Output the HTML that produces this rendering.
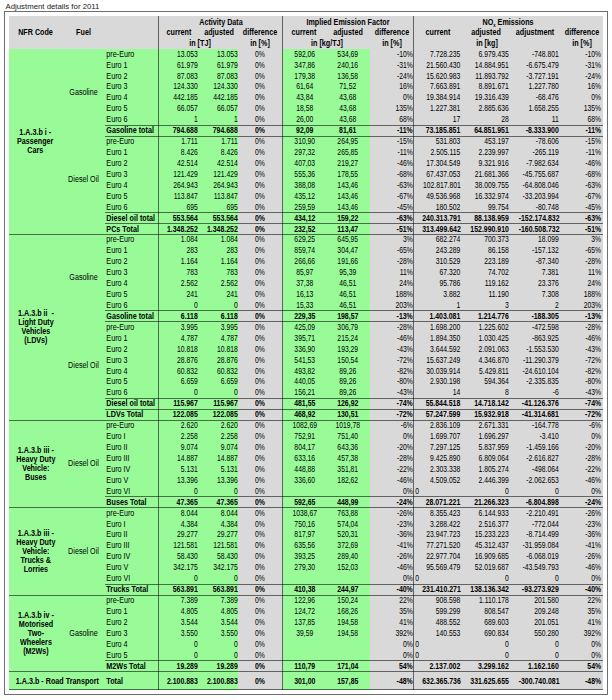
<!DOCTYPE html>
<html><head><meta charset="utf-8"><title>Adjustment details for 2011</title>
<style>
html,body{margin:0;padding:0;background:#fff;}
body{width:612px;height:700px;position:relative;overflow:hidden;font-family:"Liberation Sans",Arial,sans-serif;font-size:8.4px;color:#000;}
body>div{position:absolute;white-space:nowrap;}
.b{font-weight:bold;}
.nfr span{display:inline-block;transform:scaleX(0.858);}
.nfr{display:flex;align-items:center;justify-content:center;text-align:center;line-height:9px;white-space:nowrap;}
sub{font-size:5px;vertical-align:-1.5px;line-height:0;}
.title{left:5.5px;top:1.7px;font-size:7.8px;line-height:10px;color:#222;}
.frame{left:4px;top:11px;width:602px;height:682px;border:1px solid #6e6e6e;}
</style></head><body>
<div class="frame"></div>
<div class="title">Adjustment details for 2011</div>
<div style="left:9px;top:15.90px;width:594.00px;height:673.80px;background:#d9d9d9"></div>
<div style="left:9px;top:48.68px;width:229.00px;height:641.02px;background:#98fb98"></div>
<div style="left:282.5px;top:48.68px;width:87.00px;height:641.02px;background:#98fb98"></div>
<div class="" style="left:105px;top:48.68px;width:53.50px;height:10.93px;line-height:10.93px;text-align:left;padding-left:1.6px;box-sizing:border-box;transform:scaleX(0.858);transform-origin:left center;">pre-Euro</div>
<div class="" style="left:158.5px;top:48.68px;width:40.00px;height:10.93px;line-height:10.93px;text-align:right;padding-right:1.5px;box-sizing:border-box;transform:scaleX(0.812);transform-origin:right center;">13.053</div>
<div class="" style="left:198.5px;top:48.68px;width:40.00px;height:10.93px;line-height:10.93px;text-align:right;padding-right:1.5px;box-sizing:border-box;transform:scaleX(0.812);transform-origin:right center;">13.053</div>
<div class="" style="left:237.8px;top:48.68px;width:44.00px;height:10.93px;line-height:10.93px;text-align:center;transform:scaleX(0.812);transform-origin:center center;">0%</div>
<div class="" style="left:282.5px;top:48.68px;width:43.50px;height:10.93px;line-height:10.93px;text-align:center;transform:scaleX(0.812);transform-origin:center center;">592,06</div>
<div class="" style="left:326px;top:48.68px;width:43.50px;height:10.93px;line-height:10.93px;text-align:center;transform:scaleX(0.812);transform-origin:center center;">534,69</div>
<div class="" style="left:369.5px;top:48.68px;width:44.00px;height:10.93px;line-height:10.93px;text-align:right;padding-right:1.5px;box-sizing:border-box;transform:scaleX(0.812);transform-origin:right center;">-10%</div>
<div class="" style="left:413.5px;top:48.68px;width:47.50px;height:10.93px;line-height:10.93px;text-align:right;padding-right:1.5px;box-sizing:border-box;transform:scaleX(0.812);transform-origin:right center;">7.728.235</div>
<div class="" style="left:462px;top:48.68px;width:48.00px;height:10.93px;line-height:10.93px;text-align:right;padding-right:1.5px;box-sizing:border-box;transform:scaleX(0.812);transform-origin:right center;">6.979.435</div>
<div class="" style="left:510px;top:48.68px;width:50.00px;height:10.93px;line-height:10.93px;text-align:right;padding-right:1.5px;box-sizing:border-box;transform:scaleX(0.812);transform-origin:right center;">-748.801</div>
<div class="" style="left:560px;top:48.68px;width:42.40px;height:10.93px;line-height:10.93px;text-align:right;padding-right:1.5px;box-sizing:border-box;transform:scaleX(0.812);transform-origin:right center;">-10%</div>
<div class="" style="left:105px;top:59.61px;width:53.50px;height:10.93px;line-height:10.93px;text-align:left;padding-left:1.6px;box-sizing:border-box;transform:scaleX(0.858);transform-origin:left center;">Euro 1</div>
<div class="" style="left:158.5px;top:59.61px;width:40.00px;height:10.93px;line-height:10.93px;text-align:right;padding-right:1.5px;box-sizing:border-box;transform:scaleX(0.812);transform-origin:right center;">61.979</div>
<div class="" style="left:198.5px;top:59.61px;width:40.00px;height:10.93px;line-height:10.93px;text-align:right;padding-right:1.5px;box-sizing:border-box;transform:scaleX(0.812);transform-origin:right center;">61.979</div>
<div class="" style="left:237.8px;top:59.61px;width:44.00px;height:10.93px;line-height:10.93px;text-align:center;transform:scaleX(0.812);transform-origin:center center;">0%</div>
<div class="" style="left:282.5px;top:59.61px;width:43.50px;height:10.93px;line-height:10.93px;text-align:center;transform:scaleX(0.812);transform-origin:center center;">347,86</div>
<div class="" style="left:326px;top:59.61px;width:43.50px;height:10.93px;line-height:10.93px;text-align:center;transform:scaleX(0.812);transform-origin:center center;">240,16</div>
<div class="" style="left:369.5px;top:59.61px;width:44.00px;height:10.93px;line-height:10.93px;text-align:right;padding-right:1.5px;box-sizing:border-box;transform:scaleX(0.812);transform-origin:right center;">-31%</div>
<div class="" style="left:413.5px;top:59.61px;width:47.50px;height:10.93px;line-height:10.93px;text-align:right;padding-right:1.5px;box-sizing:border-box;transform:scaleX(0.812);transform-origin:right center;">21.560.430</div>
<div class="" style="left:462px;top:59.61px;width:48.00px;height:10.93px;line-height:10.93px;text-align:right;padding-right:1.5px;box-sizing:border-box;transform:scaleX(0.812);transform-origin:right center;">14.884.951</div>
<div class="" style="left:510px;top:59.61px;width:50.00px;height:10.93px;line-height:10.93px;text-align:right;padding-right:1.5px;box-sizing:border-box;transform:scaleX(0.812);transform-origin:right center;">-6.675.479</div>
<div class="" style="left:560px;top:59.61px;width:42.40px;height:10.93px;line-height:10.93px;text-align:right;padding-right:1.5px;box-sizing:border-box;transform:scaleX(0.812);transform-origin:right center;">-31%</div>
<div class="" style="left:105px;top:70.53px;width:53.50px;height:10.93px;line-height:10.93px;text-align:left;padding-left:1.6px;box-sizing:border-box;transform:scaleX(0.858);transform-origin:left center;">Euro 2</div>
<div class="" style="left:158.5px;top:70.53px;width:40.00px;height:10.93px;line-height:10.93px;text-align:right;padding-right:1.5px;box-sizing:border-box;transform:scaleX(0.812);transform-origin:right center;">87.083</div>
<div class="" style="left:198.5px;top:70.53px;width:40.00px;height:10.93px;line-height:10.93px;text-align:right;padding-right:1.5px;box-sizing:border-box;transform:scaleX(0.812);transform-origin:right center;">87.083</div>
<div class="" style="left:237.8px;top:70.53px;width:44.00px;height:10.93px;line-height:10.93px;text-align:center;transform:scaleX(0.812);transform-origin:center center;">0%</div>
<div class="" style="left:282.5px;top:70.53px;width:43.50px;height:10.93px;line-height:10.93px;text-align:center;transform:scaleX(0.812);transform-origin:center center;">179,38</div>
<div class="" style="left:326px;top:70.53px;width:43.50px;height:10.93px;line-height:10.93px;text-align:center;transform:scaleX(0.812);transform-origin:center center;">136,58</div>
<div class="" style="left:369.5px;top:70.53px;width:44.00px;height:10.93px;line-height:10.93px;text-align:right;padding-right:1.5px;box-sizing:border-box;transform:scaleX(0.812);transform-origin:right center;">-24%</div>
<div class="" style="left:413.5px;top:70.53px;width:47.50px;height:10.93px;line-height:10.93px;text-align:right;padding-right:1.5px;box-sizing:border-box;transform:scaleX(0.812);transform-origin:right center;">15.620.983</div>
<div class="" style="left:462px;top:70.53px;width:48.00px;height:10.93px;line-height:10.93px;text-align:right;padding-right:1.5px;box-sizing:border-box;transform:scaleX(0.812);transform-origin:right center;">11.893.792</div>
<div class="" style="left:510px;top:70.53px;width:50.00px;height:10.93px;line-height:10.93px;text-align:right;padding-right:1.5px;box-sizing:border-box;transform:scaleX(0.812);transform-origin:right center;">-3.727.191</div>
<div class="" style="left:560px;top:70.53px;width:42.40px;height:10.93px;line-height:10.93px;text-align:right;padding-right:1.5px;box-sizing:border-box;transform:scaleX(0.812);transform-origin:right center;">-24%</div>
<div class="" style="left:105px;top:81.46px;width:53.50px;height:10.93px;line-height:10.93px;text-align:left;padding-left:1.6px;box-sizing:border-box;transform:scaleX(0.858);transform-origin:left center;">Euro 3</div>
<div class="" style="left:158.5px;top:81.46px;width:40.00px;height:10.93px;line-height:10.93px;text-align:right;padding-right:1.5px;box-sizing:border-box;transform:scaleX(0.812);transform-origin:right center;">124.330</div>
<div class="" style="left:198.5px;top:81.46px;width:40.00px;height:10.93px;line-height:10.93px;text-align:right;padding-right:1.5px;box-sizing:border-box;transform:scaleX(0.812);transform-origin:right center;">124.330</div>
<div class="" style="left:237.8px;top:81.46px;width:44.00px;height:10.93px;line-height:10.93px;text-align:center;transform:scaleX(0.812);transform-origin:center center;">0%</div>
<div class="" style="left:282.5px;top:81.46px;width:43.50px;height:10.93px;line-height:10.93px;text-align:center;transform:scaleX(0.812);transform-origin:center center;">61,64</div>
<div class="" style="left:326px;top:81.46px;width:43.50px;height:10.93px;line-height:10.93px;text-align:center;transform:scaleX(0.812);transform-origin:center center;">71,52</div>
<div class="" style="left:369.5px;top:81.46px;width:44.00px;height:10.93px;line-height:10.93px;text-align:right;padding-right:1.5px;box-sizing:border-box;transform:scaleX(0.812);transform-origin:right center;">16%</div>
<div class="" style="left:413.5px;top:81.46px;width:47.50px;height:10.93px;line-height:10.93px;text-align:right;padding-right:1.5px;box-sizing:border-box;transform:scaleX(0.812);transform-origin:right center;">7.663.891</div>
<div class="" style="left:462px;top:81.46px;width:48.00px;height:10.93px;line-height:10.93px;text-align:right;padding-right:1.5px;box-sizing:border-box;transform:scaleX(0.812);transform-origin:right center;">8.891.671</div>
<div class="" style="left:510px;top:81.46px;width:50.00px;height:10.93px;line-height:10.93px;text-align:right;padding-right:1.5px;box-sizing:border-box;transform:scaleX(0.812);transform-origin:right center;">1.227.780</div>
<div class="" style="left:560px;top:81.46px;width:42.40px;height:10.93px;line-height:10.93px;text-align:right;padding-right:1.5px;box-sizing:border-box;transform:scaleX(0.812);transform-origin:right center;">16%</div>
<div class="" style="left:105px;top:92.39px;width:53.50px;height:10.93px;line-height:10.93px;text-align:left;padding-left:1.6px;box-sizing:border-box;transform:scaleX(0.858);transform-origin:left center;">Euro 4</div>
<div class="" style="left:158.5px;top:92.39px;width:40.00px;height:10.93px;line-height:10.93px;text-align:right;padding-right:1.5px;box-sizing:border-box;transform:scaleX(0.812);transform-origin:right center;">442.185</div>
<div class="" style="left:198.5px;top:92.39px;width:40.00px;height:10.93px;line-height:10.93px;text-align:right;padding-right:1.5px;box-sizing:border-box;transform:scaleX(0.812);transform-origin:right center;">442.185</div>
<div class="" style="left:237.8px;top:92.39px;width:44.00px;height:10.93px;line-height:10.93px;text-align:center;transform:scaleX(0.812);transform-origin:center center;">0%</div>
<div class="" style="left:282.5px;top:92.39px;width:43.50px;height:10.93px;line-height:10.93px;text-align:center;transform:scaleX(0.812);transform-origin:center center;">43,84</div>
<div class="" style="left:326px;top:92.39px;width:43.50px;height:10.93px;line-height:10.93px;text-align:center;transform:scaleX(0.812);transform-origin:center center;">43,68</div>
<div class="" style="left:369.5px;top:92.39px;width:44.00px;height:10.93px;line-height:10.93px;text-align:right;padding-right:1.5px;box-sizing:border-box;transform:scaleX(0.812);transform-origin:right center;">0%</div>
<div class="" style="left:413.5px;top:92.39px;width:47.50px;height:10.93px;line-height:10.93px;text-align:right;padding-right:1.5px;box-sizing:border-box;transform:scaleX(0.812);transform-origin:right center;">19.384.914</div>
<div class="" style="left:462px;top:92.39px;width:48.00px;height:10.93px;line-height:10.93px;text-align:right;padding-right:1.5px;box-sizing:border-box;transform:scaleX(0.812);transform-origin:right center;">19.316.439</div>
<div class="" style="left:510px;top:92.39px;width:50.00px;height:10.93px;line-height:10.93px;text-align:right;padding-right:1.5px;box-sizing:border-box;transform:scaleX(0.812);transform-origin:right center;">-68.476</div>
<div class="" style="left:560px;top:92.39px;width:42.40px;height:10.93px;line-height:10.93px;text-align:right;padding-right:1.5px;box-sizing:border-box;transform:scaleX(0.812);transform-origin:right center;">0%</div>
<div class="" style="left:105px;top:103.32px;width:53.50px;height:10.93px;line-height:10.93px;text-align:left;padding-left:1.6px;box-sizing:border-box;transform:scaleX(0.858);transform-origin:left center;">Euro 5</div>
<div class="" style="left:158.5px;top:103.32px;width:40.00px;height:10.93px;line-height:10.93px;text-align:right;padding-right:1.5px;box-sizing:border-box;transform:scaleX(0.812);transform-origin:right center;">66.057</div>
<div class="" style="left:198.5px;top:103.32px;width:40.00px;height:10.93px;line-height:10.93px;text-align:right;padding-right:1.5px;box-sizing:border-box;transform:scaleX(0.812);transform-origin:right center;">66.057</div>
<div class="" style="left:237.8px;top:103.32px;width:44.00px;height:10.93px;line-height:10.93px;text-align:center;transform:scaleX(0.812);transform-origin:center center;">0%</div>
<div class="" style="left:282.5px;top:103.32px;width:43.50px;height:10.93px;line-height:10.93px;text-align:center;transform:scaleX(0.812);transform-origin:center center;">18,58</div>
<div class="" style="left:326px;top:103.32px;width:43.50px;height:10.93px;line-height:10.93px;text-align:center;transform:scaleX(0.812);transform-origin:center center;">43,68</div>
<div class="" style="left:369.5px;top:103.32px;width:44.00px;height:10.93px;line-height:10.93px;text-align:right;padding-right:1.5px;box-sizing:border-box;transform:scaleX(0.812);transform-origin:right center;">135%</div>
<div class="" style="left:413.5px;top:103.32px;width:47.50px;height:10.93px;line-height:10.93px;text-align:right;padding-right:1.5px;box-sizing:border-box;transform:scaleX(0.812);transform-origin:right center;">1.227.381</div>
<div class="" style="left:462px;top:103.32px;width:48.00px;height:10.93px;line-height:10.93px;text-align:right;padding-right:1.5px;box-sizing:border-box;transform:scaleX(0.812);transform-origin:right center;">2.885.636</div>
<div class="" style="left:510px;top:103.32px;width:50.00px;height:10.93px;line-height:10.93px;text-align:right;padding-right:1.5px;box-sizing:border-box;transform:scaleX(0.812);transform-origin:right center;">1.658.255</div>
<div class="" style="left:560px;top:103.32px;width:42.40px;height:10.93px;line-height:10.93px;text-align:right;padding-right:1.5px;box-sizing:border-box;transform:scaleX(0.812);transform-origin:right center;">135%</div>
<div class="" style="left:105px;top:114.24px;width:53.50px;height:10.93px;line-height:10.93px;text-align:left;padding-left:1.6px;box-sizing:border-box;transform:scaleX(0.858);transform-origin:left center;">Euro 6</div>
<div class="" style="left:158.5px;top:114.24px;width:40.00px;height:10.93px;line-height:10.93px;text-align:right;padding-right:1.5px;box-sizing:border-box;transform:scaleX(0.812);transform-origin:right center;">1</div>
<div class="" style="left:198.5px;top:114.24px;width:40.00px;height:10.93px;line-height:10.93px;text-align:right;padding-right:1.5px;box-sizing:border-box;transform:scaleX(0.812);transform-origin:right center;">1</div>
<div class="" style="left:237.8px;top:114.24px;width:44.00px;height:10.93px;line-height:10.93px;text-align:center;transform:scaleX(0.812);transform-origin:center center;">0%</div>
<div class="" style="left:282.5px;top:114.24px;width:43.50px;height:10.93px;line-height:10.93px;text-align:center;transform:scaleX(0.812);transform-origin:center center;">26,00</div>
<div class="" style="left:326px;top:114.24px;width:43.50px;height:10.93px;line-height:10.93px;text-align:center;transform:scaleX(0.812);transform-origin:center center;">43,68</div>
<div class="" style="left:369.5px;top:114.24px;width:44.00px;height:10.93px;line-height:10.93px;text-align:right;padding-right:1.5px;box-sizing:border-box;transform:scaleX(0.812);transform-origin:right center;">68%</div>
<div class="" style="left:413.5px;top:114.24px;width:47.50px;height:10.93px;line-height:10.93px;text-align:right;padding-right:1.5px;box-sizing:border-box;transform:scaleX(0.812);transform-origin:right center;">17</div>
<div class="" style="left:462px;top:114.24px;width:48.00px;height:10.93px;line-height:10.93px;text-align:right;padding-right:1.5px;box-sizing:border-box;transform:scaleX(0.812);transform-origin:right center;">28</div>
<div class="" style="left:510px;top:114.24px;width:50.00px;height:10.93px;line-height:10.93px;text-align:right;padding-right:1.5px;box-sizing:border-box;transform:scaleX(0.812);transform-origin:right center;">11</div>
<div class="" style="left:560px;top:114.24px;width:42.40px;height:10.93px;line-height:10.93px;text-align:right;padding-right:1.5px;box-sizing:border-box;transform:scaleX(0.812);transform-origin:right center;">68%</div>
<div class="b" style="left:105px;top:125.17px;width:53.50px;height:10.93px;line-height:10.93px;text-align:left;padding-left:1.6px;box-sizing:border-box;transform:scaleX(0.858);transform-origin:left center;">Gasoline total</div>
<div class="b" style="left:158.5px;top:125.17px;width:40.00px;height:10.93px;line-height:10.93px;text-align:right;padding-right:1.5px;box-sizing:border-box;transform:scaleX(0.826);transform-origin:right center;">794.688</div>
<div class="b" style="left:198.5px;top:125.17px;width:40.00px;height:10.93px;line-height:10.93px;text-align:right;padding-right:1.5px;box-sizing:border-box;transform:scaleX(0.826);transform-origin:right center;">794.688</div>
<div class="b" style="left:237.8px;top:125.17px;width:44.00px;height:10.93px;line-height:10.93px;text-align:center;transform:scaleX(0.826);transform-origin:center center;">0%</div>
<div class="b" style="left:282.5px;top:125.17px;width:43.50px;height:10.93px;line-height:10.93px;text-align:center;transform:scaleX(0.826);transform-origin:center center;">92,09</div>
<div class="b" style="left:326px;top:125.17px;width:43.50px;height:10.93px;line-height:10.93px;text-align:center;transform:scaleX(0.826);transform-origin:center center;">81,61</div>
<div class="b" style="left:369.5px;top:125.17px;width:44.00px;height:10.93px;line-height:10.93px;text-align:right;padding-right:1.5px;box-sizing:border-box;transform:scaleX(0.826);transform-origin:right center;">-11%</div>
<div class="b" style="left:413.5px;top:125.17px;width:47.50px;height:10.93px;line-height:10.93px;text-align:right;padding-right:1.5px;box-sizing:border-box;transform:scaleX(0.826);transform-origin:right center;">73.185.851</div>
<div class="b" style="left:462px;top:125.17px;width:48.00px;height:10.93px;line-height:10.93px;text-align:right;padding-right:1.5px;box-sizing:border-box;transform:scaleX(0.826);transform-origin:right center;">64.851.951</div>
<div class="b" style="left:510px;top:125.17px;width:50.00px;height:10.93px;line-height:10.93px;text-align:right;padding-right:1.5px;box-sizing:border-box;transform:scaleX(0.826);transform-origin:right center;">-8.333.900</div>
<div class="b" style="left:560px;top:125.17px;width:42.40px;height:10.93px;line-height:10.93px;text-align:right;padding-right:1.5px;box-sizing:border-box;transform:scaleX(0.826);transform-origin:right center;">-11%</div>
<div class="" style="left:62px;top:48.68px;width:43.00px;height:87.42px;line-height:87.42px;text-align:center;transform:scaleX(0.858);transform-origin:center center;">Gasoline</div>
<div class="" style="left:105px;top:136.10px;width:53.50px;height:10.93px;line-height:10.93px;text-align:left;padding-left:1.6px;box-sizing:border-box;transform:scaleX(0.858);transform-origin:left center;">pre-Euro</div>
<div class="" style="left:158.5px;top:136.10px;width:40.00px;height:10.93px;line-height:10.93px;text-align:right;padding-right:1.5px;box-sizing:border-box;transform:scaleX(0.812);transform-origin:right center;">1.711</div>
<div class="" style="left:198.5px;top:136.10px;width:40.00px;height:10.93px;line-height:10.93px;text-align:right;padding-right:1.5px;box-sizing:border-box;transform:scaleX(0.812);transform-origin:right center;">1.711</div>
<div class="" style="left:237.8px;top:136.10px;width:44.00px;height:10.93px;line-height:10.93px;text-align:center;transform:scaleX(0.812);transform-origin:center center;">0%</div>
<div class="" style="left:282.5px;top:136.10px;width:43.50px;height:10.93px;line-height:10.93px;text-align:center;transform:scaleX(0.812);transform-origin:center center;">310,90</div>
<div class="" style="left:326px;top:136.10px;width:43.50px;height:10.93px;line-height:10.93px;text-align:center;transform:scaleX(0.812);transform-origin:center center;">264,95</div>
<div class="" style="left:369.5px;top:136.10px;width:44.00px;height:10.93px;line-height:10.93px;text-align:right;padding-right:1.5px;box-sizing:border-box;transform:scaleX(0.812);transform-origin:right center;">-15%</div>
<div class="" style="left:413.5px;top:136.10px;width:47.50px;height:10.93px;line-height:10.93px;text-align:right;padding-right:1.5px;box-sizing:border-box;transform:scaleX(0.812);transform-origin:right center;">531.803</div>
<div class="" style="left:462px;top:136.10px;width:48.00px;height:10.93px;line-height:10.93px;text-align:right;padding-right:1.5px;box-sizing:border-box;transform:scaleX(0.812);transform-origin:right center;">453.197</div>
<div class="" style="left:510px;top:136.10px;width:50.00px;height:10.93px;line-height:10.93px;text-align:right;padding-right:1.5px;box-sizing:border-box;transform:scaleX(0.812);transform-origin:right center;">-78.606</div>
<div class="" style="left:560px;top:136.10px;width:42.40px;height:10.93px;line-height:10.93px;text-align:right;padding-right:1.5px;box-sizing:border-box;transform:scaleX(0.812);transform-origin:right center;">-15%</div>
<div class="" style="left:105px;top:147.02px;width:53.50px;height:10.93px;line-height:10.93px;text-align:left;padding-left:1.6px;box-sizing:border-box;transform:scaleX(0.858);transform-origin:left center;">Euro 1</div>
<div class="" style="left:158.5px;top:147.02px;width:40.00px;height:10.93px;line-height:10.93px;text-align:right;padding-right:1.5px;box-sizing:border-box;transform:scaleX(0.812);transform-origin:right center;">8.426</div>
<div class="" style="left:198.5px;top:147.02px;width:40.00px;height:10.93px;line-height:10.93px;text-align:right;padding-right:1.5px;box-sizing:border-box;transform:scaleX(0.812);transform-origin:right center;">8.426</div>
<div class="" style="left:237.8px;top:147.02px;width:44.00px;height:10.93px;line-height:10.93px;text-align:center;transform:scaleX(0.812);transform-origin:center center;">0%</div>
<div class="" style="left:282.5px;top:147.02px;width:43.50px;height:10.93px;line-height:10.93px;text-align:center;transform:scaleX(0.812);transform-origin:center center;">297,32</div>
<div class="" style="left:326px;top:147.02px;width:43.50px;height:10.93px;line-height:10.93px;text-align:center;transform:scaleX(0.812);transform-origin:center center;">265,85</div>
<div class="" style="left:369.5px;top:147.02px;width:44.00px;height:10.93px;line-height:10.93px;text-align:right;padding-right:1.5px;box-sizing:border-box;transform:scaleX(0.812);transform-origin:right center;">-11%</div>
<div class="" style="left:413.5px;top:147.02px;width:47.50px;height:10.93px;line-height:10.93px;text-align:right;padding-right:1.5px;box-sizing:border-box;transform:scaleX(0.812);transform-origin:right center;">2.505.115</div>
<div class="" style="left:462px;top:147.02px;width:48.00px;height:10.93px;line-height:10.93px;text-align:right;padding-right:1.5px;box-sizing:border-box;transform:scaleX(0.812);transform-origin:right center;">2.239.997</div>
<div class="" style="left:510px;top:147.02px;width:50.00px;height:10.93px;line-height:10.93px;text-align:right;padding-right:1.5px;box-sizing:border-box;transform:scaleX(0.812);transform-origin:right center;">-265.119</div>
<div class="" style="left:560px;top:147.02px;width:42.40px;height:10.93px;line-height:10.93px;text-align:right;padding-right:1.5px;box-sizing:border-box;transform:scaleX(0.812);transform-origin:right center;">-11%</div>
<div class="" style="left:105px;top:157.95px;width:53.50px;height:10.93px;line-height:10.93px;text-align:left;padding-left:1.6px;box-sizing:border-box;transform:scaleX(0.858);transform-origin:left center;">Euro 2</div>
<div class="" style="left:158.5px;top:157.95px;width:40.00px;height:10.93px;line-height:10.93px;text-align:right;padding-right:1.5px;box-sizing:border-box;transform:scaleX(0.812);transform-origin:right center;">42.514</div>
<div class="" style="left:198.5px;top:157.95px;width:40.00px;height:10.93px;line-height:10.93px;text-align:right;padding-right:1.5px;box-sizing:border-box;transform:scaleX(0.812);transform-origin:right center;">42.514</div>
<div class="" style="left:237.8px;top:157.95px;width:44.00px;height:10.93px;line-height:10.93px;text-align:center;transform:scaleX(0.812);transform-origin:center center;">0%</div>
<div class="" style="left:282.5px;top:157.95px;width:43.50px;height:10.93px;line-height:10.93px;text-align:center;transform:scaleX(0.812);transform-origin:center center;">407,03</div>
<div class="" style="left:326px;top:157.95px;width:43.50px;height:10.93px;line-height:10.93px;text-align:center;transform:scaleX(0.812);transform-origin:center center;">219,27</div>
<div class="" style="left:369.5px;top:157.95px;width:44.00px;height:10.93px;line-height:10.93px;text-align:right;padding-right:1.5px;box-sizing:border-box;transform:scaleX(0.812);transform-origin:right center;">-46%</div>
<div class="" style="left:413.5px;top:157.95px;width:47.50px;height:10.93px;line-height:10.93px;text-align:right;padding-right:1.5px;box-sizing:border-box;transform:scaleX(0.812);transform-origin:right center;">17.304.549</div>
<div class="" style="left:462px;top:157.95px;width:48.00px;height:10.93px;line-height:10.93px;text-align:right;padding-right:1.5px;box-sizing:border-box;transform:scaleX(0.812);transform-origin:right center;">9.321.916</div>
<div class="" style="left:510px;top:157.95px;width:50.00px;height:10.93px;line-height:10.93px;text-align:right;padding-right:1.5px;box-sizing:border-box;transform:scaleX(0.812);transform-origin:right center;">-7.982.634</div>
<div class="" style="left:560px;top:157.95px;width:42.40px;height:10.93px;line-height:10.93px;text-align:right;padding-right:1.5px;box-sizing:border-box;transform:scaleX(0.812);transform-origin:right center;">-46%</div>
<div class="" style="left:105px;top:168.88px;width:53.50px;height:10.93px;line-height:10.93px;text-align:left;padding-left:1.6px;box-sizing:border-box;transform:scaleX(0.858);transform-origin:left center;">Euro 3</div>
<div class="" style="left:158.5px;top:168.88px;width:40.00px;height:10.93px;line-height:10.93px;text-align:right;padding-right:1.5px;box-sizing:border-box;transform:scaleX(0.812);transform-origin:right center;">121.429</div>
<div class="" style="left:198.5px;top:168.88px;width:40.00px;height:10.93px;line-height:10.93px;text-align:right;padding-right:1.5px;box-sizing:border-box;transform:scaleX(0.812);transform-origin:right center;">121.429</div>
<div class="" style="left:237.8px;top:168.88px;width:44.00px;height:10.93px;line-height:10.93px;text-align:center;transform:scaleX(0.812);transform-origin:center center;">0%</div>
<div class="" style="left:282.5px;top:168.88px;width:43.50px;height:10.93px;line-height:10.93px;text-align:center;transform:scaleX(0.812);transform-origin:center center;">555,36</div>
<div class="" style="left:326px;top:168.88px;width:43.50px;height:10.93px;line-height:10.93px;text-align:center;transform:scaleX(0.812);transform-origin:center center;">178,55</div>
<div class="" style="left:369.5px;top:168.88px;width:44.00px;height:10.93px;line-height:10.93px;text-align:right;padding-right:1.5px;box-sizing:border-box;transform:scaleX(0.812);transform-origin:right center;">-68%</div>
<div class="" style="left:413.5px;top:168.88px;width:47.50px;height:10.93px;line-height:10.93px;text-align:right;padding-right:1.5px;box-sizing:border-box;transform:scaleX(0.812);transform-origin:right center;">67.437.053</div>
<div class="" style="left:462px;top:168.88px;width:48.00px;height:10.93px;line-height:10.93px;text-align:right;padding-right:1.5px;box-sizing:border-box;transform:scaleX(0.812);transform-origin:right center;">21.681.366</div>
<div class="" style="left:510px;top:168.88px;width:50.00px;height:10.93px;line-height:10.93px;text-align:right;padding-right:1.5px;box-sizing:border-box;transform:scaleX(0.812);transform-origin:right center;">-45.755.687</div>
<div class="" style="left:560px;top:168.88px;width:42.40px;height:10.93px;line-height:10.93px;text-align:right;padding-right:1.5px;box-sizing:border-box;transform:scaleX(0.812);transform-origin:right center;">-68%</div>
<div class="" style="left:105px;top:179.81px;width:53.50px;height:10.93px;line-height:10.93px;text-align:left;padding-left:1.6px;box-sizing:border-box;transform:scaleX(0.858);transform-origin:left center;">Euro 4</div>
<div class="" style="left:158.5px;top:179.81px;width:40.00px;height:10.93px;line-height:10.93px;text-align:right;padding-right:1.5px;box-sizing:border-box;transform:scaleX(0.812);transform-origin:right center;">264.943</div>
<div class="" style="left:198.5px;top:179.81px;width:40.00px;height:10.93px;line-height:10.93px;text-align:right;padding-right:1.5px;box-sizing:border-box;transform:scaleX(0.812);transform-origin:right center;">264.943</div>
<div class="" style="left:237.8px;top:179.81px;width:44.00px;height:10.93px;line-height:10.93px;text-align:center;transform:scaleX(0.812);transform-origin:center center;">0%</div>
<div class="" style="left:282.5px;top:179.81px;width:43.50px;height:10.93px;line-height:10.93px;text-align:center;transform:scaleX(0.812);transform-origin:center center;">388,08</div>
<div class="" style="left:326px;top:179.81px;width:43.50px;height:10.93px;line-height:10.93px;text-align:center;transform:scaleX(0.812);transform-origin:center center;">143,46</div>
<div class="" style="left:369.5px;top:179.81px;width:44.00px;height:10.93px;line-height:10.93px;text-align:right;padding-right:1.5px;box-sizing:border-box;transform:scaleX(0.812);transform-origin:right center;">-63%</div>
<div class="" style="left:413.5px;top:179.81px;width:47.50px;height:10.93px;line-height:10.93px;text-align:right;padding-right:1.5px;box-sizing:border-box;transform:scaleX(0.812);transform-origin:right center;">102.817.801</div>
<div class="" style="left:462px;top:179.81px;width:48.00px;height:10.93px;line-height:10.93px;text-align:right;padding-right:1.5px;box-sizing:border-box;transform:scaleX(0.812);transform-origin:right center;">38.009.755</div>
<div class="" style="left:510px;top:179.81px;width:50.00px;height:10.93px;line-height:10.93px;text-align:right;padding-right:1.5px;box-sizing:border-box;transform:scaleX(0.812);transform-origin:right center;">-64.808.046</div>
<div class="" style="left:560px;top:179.81px;width:42.40px;height:10.93px;line-height:10.93px;text-align:right;padding-right:1.5px;box-sizing:border-box;transform:scaleX(0.812);transform-origin:right center;">-63%</div>
<div class="" style="left:105px;top:190.73px;width:53.50px;height:10.93px;line-height:10.93px;text-align:left;padding-left:1.6px;box-sizing:border-box;transform:scaleX(0.858);transform-origin:left center;">Euro 5</div>
<div class="" style="left:158.5px;top:190.73px;width:40.00px;height:10.93px;line-height:10.93px;text-align:right;padding-right:1.5px;box-sizing:border-box;transform:scaleX(0.812);transform-origin:right center;">113.847</div>
<div class="" style="left:198.5px;top:190.73px;width:40.00px;height:10.93px;line-height:10.93px;text-align:right;padding-right:1.5px;box-sizing:border-box;transform:scaleX(0.812);transform-origin:right center;">113.847</div>
<div class="" style="left:237.8px;top:190.73px;width:44.00px;height:10.93px;line-height:10.93px;text-align:center;transform:scaleX(0.812);transform-origin:center center;">0%</div>
<div class="" style="left:282.5px;top:190.73px;width:43.50px;height:10.93px;line-height:10.93px;text-align:center;transform:scaleX(0.812);transform-origin:center center;">435,12</div>
<div class="" style="left:326px;top:190.73px;width:43.50px;height:10.93px;line-height:10.93px;text-align:center;transform:scaleX(0.812);transform-origin:center center;">143,46</div>
<div class="" style="left:369.5px;top:190.73px;width:44.00px;height:10.93px;line-height:10.93px;text-align:right;padding-right:1.5px;box-sizing:border-box;transform:scaleX(0.812);transform-origin:right center;">-67%</div>
<div class="" style="left:413.5px;top:190.73px;width:47.50px;height:10.93px;line-height:10.93px;text-align:right;padding-right:1.5px;box-sizing:border-box;transform:scaleX(0.812);transform-origin:right center;">49.536.968</div>
<div class="" style="left:462px;top:190.73px;width:48.00px;height:10.93px;line-height:10.93px;text-align:right;padding-right:1.5px;box-sizing:border-box;transform:scaleX(0.812);transform-origin:right center;">16.332.974</div>
<div class="" style="left:510px;top:190.73px;width:50.00px;height:10.93px;line-height:10.93px;text-align:right;padding-right:1.5px;box-sizing:border-box;transform:scaleX(0.812);transform-origin:right center;">-33.203.994</div>
<div class="" style="left:560px;top:190.73px;width:42.40px;height:10.93px;line-height:10.93px;text-align:right;padding-right:1.5px;box-sizing:border-box;transform:scaleX(0.812);transform-origin:right center;">-67%</div>
<div class="" style="left:105px;top:201.66px;width:53.50px;height:10.93px;line-height:10.93px;text-align:left;padding-left:1.6px;box-sizing:border-box;transform:scaleX(0.858);transform-origin:left center;">Euro 6</div>
<div class="" style="left:158.5px;top:201.66px;width:40.00px;height:10.93px;line-height:10.93px;text-align:right;padding-right:1.5px;box-sizing:border-box;transform:scaleX(0.812);transform-origin:right center;">695</div>
<div class="" style="left:198.5px;top:201.66px;width:40.00px;height:10.93px;line-height:10.93px;text-align:right;padding-right:1.5px;box-sizing:border-box;transform:scaleX(0.812);transform-origin:right center;">695</div>
<div class="" style="left:237.8px;top:201.66px;width:44.00px;height:10.93px;line-height:10.93px;text-align:center;transform:scaleX(0.812);transform-origin:center center;">0%</div>
<div class="" style="left:282.5px;top:201.66px;width:43.50px;height:10.93px;line-height:10.93px;text-align:center;transform:scaleX(0.812);transform-origin:center center;">259,59</div>
<div class="" style="left:326px;top:201.66px;width:43.50px;height:10.93px;line-height:10.93px;text-align:center;transform:scaleX(0.812);transform-origin:center center;">143,46</div>
<div class="" style="left:369.5px;top:201.66px;width:44.00px;height:10.93px;line-height:10.93px;text-align:right;padding-right:1.5px;box-sizing:border-box;transform:scaleX(0.812);transform-origin:right center;">-45%</div>
<div class="" style="left:413.5px;top:201.66px;width:47.50px;height:10.93px;line-height:10.93px;text-align:right;padding-right:1.5px;box-sizing:border-box;transform:scaleX(0.812);transform-origin:right center;">180.502</div>
<div class="" style="left:462px;top:201.66px;width:48.00px;height:10.93px;line-height:10.93px;text-align:right;padding-right:1.5px;box-sizing:border-box;transform:scaleX(0.812);transform-origin:right center;">99.754</div>
<div class="" style="left:510px;top:201.66px;width:50.00px;height:10.93px;line-height:10.93px;text-align:right;padding-right:1.5px;box-sizing:border-box;transform:scaleX(0.812);transform-origin:right center;">-80.748</div>
<div class="" style="left:560px;top:201.66px;width:42.40px;height:10.93px;line-height:10.93px;text-align:right;padding-right:1.5px;box-sizing:border-box;transform:scaleX(0.812);transform-origin:right center;">-45%</div>
<div class="b" style="left:105px;top:212.59px;width:53.50px;height:10.93px;line-height:10.93px;text-align:left;padding-left:1.6px;box-sizing:border-box;transform:scaleX(0.858);transform-origin:left center;">Diesel oil total</div>
<div class="b" style="left:158.5px;top:212.59px;width:40.00px;height:10.93px;line-height:10.93px;text-align:right;padding-right:1.5px;box-sizing:border-box;transform:scaleX(0.826);transform-origin:right center;">553.564</div>
<div class="b" style="left:198.5px;top:212.59px;width:40.00px;height:10.93px;line-height:10.93px;text-align:right;padding-right:1.5px;box-sizing:border-box;transform:scaleX(0.826);transform-origin:right center;">553.564</div>
<div class="b" style="left:237.8px;top:212.59px;width:44.00px;height:10.93px;line-height:10.93px;text-align:center;transform:scaleX(0.826);transform-origin:center center;">0%</div>
<div class="b" style="left:282.5px;top:212.59px;width:43.50px;height:10.93px;line-height:10.93px;text-align:center;transform:scaleX(0.826);transform-origin:center center;">434,12</div>
<div class="b" style="left:326px;top:212.59px;width:43.50px;height:10.93px;line-height:10.93px;text-align:center;transform:scaleX(0.826);transform-origin:center center;">159,22</div>
<div class="b" style="left:369.5px;top:212.59px;width:44.00px;height:10.93px;line-height:10.93px;text-align:right;padding-right:1.5px;box-sizing:border-box;transform:scaleX(0.826);transform-origin:right center;">-63%</div>
<div class="b" style="left:413.5px;top:212.59px;width:47.50px;height:10.93px;line-height:10.93px;text-align:right;padding-right:1.5px;box-sizing:border-box;transform:scaleX(0.826);transform-origin:right center;">240.313.791</div>
<div class="b" style="left:462px;top:212.59px;width:48.00px;height:10.93px;line-height:10.93px;text-align:right;padding-right:1.5px;box-sizing:border-box;transform:scaleX(0.826);transform-origin:right center;">88.138.959</div>
<div class="b" style="left:510px;top:212.59px;width:50.00px;height:10.93px;line-height:10.93px;text-align:right;padding-right:1.5px;box-sizing:border-box;transform:scaleX(0.826);transform-origin:right center;">-152.174.832</div>
<div class="b" style="left:560px;top:212.59px;width:42.40px;height:10.93px;line-height:10.93px;text-align:right;padding-right:1.5px;box-sizing:border-box;transform:scaleX(0.826);transform-origin:right center;">-63%</div>
<div class="" style="left:62px;top:136.10px;width:43.00px;height:87.42px;line-height:87.42px;text-align:center;transform:scaleX(0.858);transform-origin:center center;">Diesel Oil</div>
<div class="b" style="left:105px;top:223.51px;width:53.50px;height:10.93px;line-height:10.93px;text-align:left;padding-left:1.6px;box-sizing:border-box;transform:scaleX(0.858);transform-origin:left center;">PCs Total</div>
<div class="b" style="left:158.5px;top:223.51px;width:40.00px;height:10.93px;line-height:10.93px;text-align:right;padding-right:1.5px;box-sizing:border-box;transform:scaleX(0.826);transform-origin:right center;">1.348.252</div>
<div class="b" style="left:198.5px;top:223.51px;width:40.00px;height:10.93px;line-height:10.93px;text-align:right;padding-right:1.5px;box-sizing:border-box;transform:scaleX(0.826);transform-origin:right center;">1.348.252</div>
<div class="b" style="left:237.8px;top:223.51px;width:44.00px;height:10.93px;line-height:10.93px;text-align:center;transform:scaleX(0.826);transform-origin:center center;">0%</div>
<div class="b" style="left:282.5px;top:223.51px;width:43.50px;height:10.93px;line-height:10.93px;text-align:center;transform:scaleX(0.826);transform-origin:center center;">232,52</div>
<div class="b" style="left:326px;top:223.51px;width:43.50px;height:10.93px;line-height:10.93px;text-align:center;transform:scaleX(0.826);transform-origin:center center;">113,47</div>
<div class="b" style="left:369.5px;top:223.51px;width:44.00px;height:10.93px;line-height:10.93px;text-align:right;padding-right:1.5px;box-sizing:border-box;transform:scaleX(0.826);transform-origin:right center;">-51%</div>
<div class="b" style="left:413.5px;top:223.51px;width:47.50px;height:10.93px;line-height:10.93px;text-align:right;padding-right:1.5px;box-sizing:border-box;transform:scaleX(0.826);transform-origin:right center;">313.499.642</div>
<div class="b" style="left:462px;top:223.51px;width:48.00px;height:10.93px;line-height:10.93px;text-align:right;padding-right:1.5px;box-sizing:border-box;transform:scaleX(0.826);transform-origin:right center;">152.990.910</div>
<div class="b" style="left:510px;top:223.51px;width:50.00px;height:10.93px;line-height:10.93px;text-align:right;padding-right:1.5px;box-sizing:border-box;transform:scaleX(0.826);transform-origin:right center;">-160.508.732</div>
<div class="b" style="left:560px;top:223.51px;width:42.40px;height:10.93px;line-height:10.93px;text-align:right;padding-right:1.5px;box-sizing:border-box;transform:scaleX(0.826);transform-origin:right center;">-51%</div>
<div class="b nfr" style="left:9px;top:48.68px;width:53px;height:185.76px"><span>1.A.3.b i -<br>Passenger<br>Cars</span></div>
<div class="" style="left:105px;top:234.44px;width:53.50px;height:10.93px;line-height:10.93px;text-align:left;padding-left:1.6px;box-sizing:border-box;transform:scaleX(0.858);transform-origin:left center;">pre-Euro</div>
<div class="" style="left:158.5px;top:234.44px;width:40.00px;height:10.93px;line-height:10.93px;text-align:right;padding-right:1.5px;box-sizing:border-box;transform:scaleX(0.812);transform-origin:right center;">1.084</div>
<div class="" style="left:198.5px;top:234.44px;width:40.00px;height:10.93px;line-height:10.93px;text-align:right;padding-right:1.5px;box-sizing:border-box;transform:scaleX(0.812);transform-origin:right center;">1.084</div>
<div class="" style="left:237.8px;top:234.44px;width:44.00px;height:10.93px;line-height:10.93px;text-align:center;transform:scaleX(0.812);transform-origin:center center;">0%</div>
<div class="" style="left:282.5px;top:234.44px;width:43.50px;height:10.93px;line-height:10.93px;text-align:center;transform:scaleX(0.812);transform-origin:center center;">629,25</div>
<div class="" style="left:326px;top:234.44px;width:43.50px;height:10.93px;line-height:10.93px;text-align:center;transform:scaleX(0.812);transform-origin:center center;">645,95</div>
<div class="" style="left:369.5px;top:234.44px;width:44.00px;height:10.93px;line-height:10.93px;text-align:right;padding-right:1.5px;box-sizing:border-box;transform:scaleX(0.812);transform-origin:right center;">3%</div>
<div class="" style="left:413.5px;top:234.44px;width:47.50px;height:10.93px;line-height:10.93px;text-align:right;padding-right:1.5px;box-sizing:border-box;transform:scaleX(0.812);transform-origin:right center;">682.274</div>
<div class="" style="left:462px;top:234.44px;width:48.00px;height:10.93px;line-height:10.93px;text-align:right;padding-right:1.5px;box-sizing:border-box;transform:scaleX(0.812);transform-origin:right center;">700.373</div>
<div class="" style="left:510px;top:234.44px;width:50.00px;height:10.93px;line-height:10.93px;text-align:right;padding-right:1.5px;box-sizing:border-box;transform:scaleX(0.812);transform-origin:right center;">18.099</div>
<div class="" style="left:560px;top:234.44px;width:42.40px;height:10.93px;line-height:10.93px;text-align:right;padding-right:1.5px;box-sizing:border-box;transform:scaleX(0.812);transform-origin:right center;">3%</div>
<div class="" style="left:105px;top:245.37px;width:53.50px;height:10.93px;line-height:10.93px;text-align:left;padding-left:1.6px;box-sizing:border-box;transform:scaleX(0.858);transform-origin:left center;">Euro 1</div>
<div class="" style="left:158.5px;top:245.37px;width:40.00px;height:10.93px;line-height:10.93px;text-align:right;padding-right:1.5px;box-sizing:border-box;transform:scaleX(0.812);transform-origin:right center;">283</div>
<div class="" style="left:198.5px;top:245.37px;width:40.00px;height:10.93px;line-height:10.93px;text-align:right;padding-right:1.5px;box-sizing:border-box;transform:scaleX(0.812);transform-origin:right center;">283</div>
<div class="" style="left:237.8px;top:245.37px;width:44.00px;height:10.93px;line-height:10.93px;text-align:center;transform:scaleX(0.812);transform-origin:center center;">0%</div>
<div class="" style="left:282.5px;top:245.37px;width:43.50px;height:10.93px;line-height:10.93px;text-align:center;transform:scaleX(0.812);transform-origin:center center;">859,74</div>
<div class="" style="left:326px;top:245.37px;width:43.50px;height:10.93px;line-height:10.93px;text-align:center;transform:scaleX(0.812);transform-origin:center center;">304,47</div>
<div class="" style="left:369.5px;top:245.37px;width:44.00px;height:10.93px;line-height:10.93px;text-align:right;padding-right:1.5px;box-sizing:border-box;transform:scaleX(0.812);transform-origin:right center;">-65%</div>
<div class="" style="left:413.5px;top:245.37px;width:47.50px;height:10.93px;line-height:10.93px;text-align:right;padding-right:1.5px;box-sizing:border-box;transform:scaleX(0.812);transform-origin:right center;">243.289</div>
<div class="" style="left:462px;top:245.37px;width:48.00px;height:10.93px;line-height:10.93px;text-align:right;padding-right:1.5px;box-sizing:border-box;transform:scaleX(0.812);transform-origin:right center;">86.158</div>
<div class="" style="left:510px;top:245.37px;width:50.00px;height:10.93px;line-height:10.93px;text-align:right;padding-right:1.5px;box-sizing:border-box;transform:scaleX(0.812);transform-origin:right center;">-157.132</div>
<div class="" style="left:560px;top:245.37px;width:42.40px;height:10.93px;line-height:10.93px;text-align:right;padding-right:1.5px;box-sizing:border-box;transform:scaleX(0.812);transform-origin:right center;">-65%</div>
<div class="" style="left:105px;top:256.29px;width:53.50px;height:10.93px;line-height:10.93px;text-align:left;padding-left:1.6px;box-sizing:border-box;transform:scaleX(0.858);transform-origin:left center;">Euro 2</div>
<div class="" style="left:158.5px;top:256.29px;width:40.00px;height:10.93px;line-height:10.93px;text-align:right;padding-right:1.5px;box-sizing:border-box;transform:scaleX(0.812);transform-origin:right center;">1.164</div>
<div class="" style="left:198.5px;top:256.29px;width:40.00px;height:10.93px;line-height:10.93px;text-align:right;padding-right:1.5px;box-sizing:border-box;transform:scaleX(0.812);transform-origin:right center;">1.164</div>
<div class="" style="left:237.8px;top:256.29px;width:44.00px;height:10.93px;line-height:10.93px;text-align:center;transform:scaleX(0.812);transform-origin:center center;">0%</div>
<div class="" style="left:282.5px;top:256.29px;width:43.50px;height:10.93px;line-height:10.93px;text-align:center;transform:scaleX(0.812);transform-origin:center center;">266,66</div>
<div class="" style="left:326px;top:256.29px;width:43.50px;height:10.93px;line-height:10.93px;text-align:center;transform:scaleX(0.812);transform-origin:center center;">191,66</div>
<div class="" style="left:369.5px;top:256.29px;width:44.00px;height:10.93px;line-height:10.93px;text-align:right;padding-right:1.5px;box-sizing:border-box;transform:scaleX(0.812);transform-origin:right center;">-28%</div>
<div class="" style="left:413.5px;top:256.29px;width:47.50px;height:10.93px;line-height:10.93px;text-align:right;padding-right:1.5px;box-sizing:border-box;transform:scaleX(0.812);transform-origin:right center;">310.529</div>
<div class="" style="left:462px;top:256.29px;width:48.00px;height:10.93px;line-height:10.93px;text-align:right;padding-right:1.5px;box-sizing:border-box;transform:scaleX(0.812);transform-origin:right center;">223.189</div>
<div class="" style="left:510px;top:256.29px;width:50.00px;height:10.93px;line-height:10.93px;text-align:right;padding-right:1.5px;box-sizing:border-box;transform:scaleX(0.812);transform-origin:right center;">-87.340</div>
<div class="" style="left:560px;top:256.29px;width:42.40px;height:10.93px;line-height:10.93px;text-align:right;padding-right:1.5px;box-sizing:border-box;transform:scaleX(0.812);transform-origin:right center;">-28%</div>
<div class="" style="left:105px;top:267.22px;width:53.50px;height:10.93px;line-height:10.93px;text-align:left;padding-left:1.6px;box-sizing:border-box;transform:scaleX(0.858);transform-origin:left center;">Euro 3</div>
<div class="" style="left:158.5px;top:267.22px;width:40.00px;height:10.93px;line-height:10.93px;text-align:right;padding-right:1.5px;box-sizing:border-box;transform:scaleX(0.812);transform-origin:right center;">783</div>
<div class="" style="left:198.5px;top:267.22px;width:40.00px;height:10.93px;line-height:10.93px;text-align:right;padding-right:1.5px;box-sizing:border-box;transform:scaleX(0.812);transform-origin:right center;">783</div>
<div class="" style="left:237.8px;top:267.22px;width:44.00px;height:10.93px;line-height:10.93px;text-align:center;transform:scaleX(0.812);transform-origin:center center;">0%</div>
<div class="" style="left:282.5px;top:267.22px;width:43.50px;height:10.93px;line-height:10.93px;text-align:center;transform:scaleX(0.812);transform-origin:center center;">85,97</div>
<div class="" style="left:326px;top:267.22px;width:43.50px;height:10.93px;line-height:10.93px;text-align:center;transform:scaleX(0.812);transform-origin:center center;">95,39</div>
<div class="" style="left:369.5px;top:267.22px;width:44.00px;height:10.93px;line-height:10.93px;text-align:right;padding-right:1.5px;box-sizing:border-box;transform:scaleX(0.812);transform-origin:right center;">11%</div>
<div class="" style="left:413.5px;top:267.22px;width:47.50px;height:10.93px;line-height:10.93px;text-align:right;padding-right:1.5px;box-sizing:border-box;transform:scaleX(0.812);transform-origin:right center;">67.320</div>
<div class="" style="left:462px;top:267.22px;width:48.00px;height:10.93px;line-height:10.93px;text-align:right;padding-right:1.5px;box-sizing:border-box;transform:scaleX(0.812);transform-origin:right center;">74.702</div>
<div class="" style="left:510px;top:267.22px;width:50.00px;height:10.93px;line-height:10.93px;text-align:right;padding-right:1.5px;box-sizing:border-box;transform:scaleX(0.812);transform-origin:right center;">7.381</div>
<div class="" style="left:560px;top:267.22px;width:42.40px;height:10.93px;line-height:10.93px;text-align:right;padding-right:1.5px;box-sizing:border-box;transform:scaleX(0.812);transform-origin:right center;">11%</div>
<div class="" style="left:105px;top:278.15px;width:53.50px;height:10.93px;line-height:10.93px;text-align:left;padding-left:1.6px;box-sizing:border-box;transform:scaleX(0.858);transform-origin:left center;">Euro 4</div>
<div class="" style="left:158.5px;top:278.15px;width:40.00px;height:10.93px;line-height:10.93px;text-align:right;padding-right:1.5px;box-sizing:border-box;transform:scaleX(0.812);transform-origin:right center;">2.562</div>
<div class="" style="left:198.5px;top:278.15px;width:40.00px;height:10.93px;line-height:10.93px;text-align:right;padding-right:1.5px;box-sizing:border-box;transform:scaleX(0.812);transform-origin:right center;">2.562</div>
<div class="" style="left:237.8px;top:278.15px;width:44.00px;height:10.93px;line-height:10.93px;text-align:center;transform:scaleX(0.812);transform-origin:center center;">0%</div>
<div class="" style="left:282.5px;top:278.15px;width:43.50px;height:10.93px;line-height:10.93px;text-align:center;transform:scaleX(0.812);transform-origin:center center;">37,38</div>
<div class="" style="left:326px;top:278.15px;width:43.50px;height:10.93px;line-height:10.93px;text-align:center;transform:scaleX(0.812);transform-origin:center center;">46,51</div>
<div class="" style="left:369.5px;top:278.15px;width:44.00px;height:10.93px;line-height:10.93px;text-align:right;padding-right:1.5px;box-sizing:border-box;transform:scaleX(0.812);transform-origin:right center;">24%</div>
<div class="" style="left:413.5px;top:278.15px;width:47.50px;height:10.93px;line-height:10.93px;text-align:right;padding-right:1.5px;box-sizing:border-box;transform:scaleX(0.812);transform-origin:right center;">95.786</div>
<div class="" style="left:462px;top:278.15px;width:48.00px;height:10.93px;line-height:10.93px;text-align:right;padding-right:1.5px;box-sizing:border-box;transform:scaleX(0.812);transform-origin:right center;">119.162</div>
<div class="" style="left:510px;top:278.15px;width:50.00px;height:10.93px;line-height:10.93px;text-align:right;padding-right:1.5px;box-sizing:border-box;transform:scaleX(0.812);transform-origin:right center;">23.376</div>
<div class="" style="left:560px;top:278.15px;width:42.40px;height:10.93px;line-height:10.93px;text-align:right;padding-right:1.5px;box-sizing:border-box;transform:scaleX(0.812);transform-origin:right center;">24%</div>
<div class="" style="left:105px;top:289.07px;width:53.50px;height:10.93px;line-height:10.93px;text-align:left;padding-left:1.6px;box-sizing:border-box;transform:scaleX(0.858);transform-origin:left center;">Euro 5</div>
<div class="" style="left:158.5px;top:289.07px;width:40.00px;height:10.93px;line-height:10.93px;text-align:right;padding-right:1.5px;box-sizing:border-box;transform:scaleX(0.812);transform-origin:right center;">241</div>
<div class="" style="left:198.5px;top:289.07px;width:40.00px;height:10.93px;line-height:10.93px;text-align:right;padding-right:1.5px;box-sizing:border-box;transform:scaleX(0.812);transform-origin:right center;">241</div>
<div class="" style="left:237.8px;top:289.07px;width:44.00px;height:10.93px;line-height:10.93px;text-align:center;transform:scaleX(0.812);transform-origin:center center;">0%</div>
<div class="" style="left:282.5px;top:289.07px;width:43.50px;height:10.93px;line-height:10.93px;text-align:center;transform:scaleX(0.812);transform-origin:center center;">16,13</div>
<div class="" style="left:326px;top:289.07px;width:43.50px;height:10.93px;line-height:10.93px;text-align:center;transform:scaleX(0.812);transform-origin:center center;">46,51</div>
<div class="" style="left:369.5px;top:289.07px;width:44.00px;height:10.93px;line-height:10.93px;text-align:right;padding-right:1.5px;box-sizing:border-box;transform:scaleX(0.812);transform-origin:right center;">188%</div>
<div class="" style="left:413.5px;top:289.07px;width:47.50px;height:10.93px;line-height:10.93px;text-align:right;padding-right:1.5px;box-sizing:border-box;transform:scaleX(0.812);transform-origin:right center;">3.882</div>
<div class="" style="left:462px;top:289.07px;width:48.00px;height:10.93px;line-height:10.93px;text-align:right;padding-right:1.5px;box-sizing:border-box;transform:scaleX(0.812);transform-origin:right center;">11.190</div>
<div class="" style="left:510px;top:289.07px;width:50.00px;height:10.93px;line-height:10.93px;text-align:right;padding-right:1.5px;box-sizing:border-box;transform:scaleX(0.812);transform-origin:right center;">7.308</div>
<div class="" style="left:560px;top:289.07px;width:42.40px;height:10.93px;line-height:10.93px;text-align:right;padding-right:1.5px;box-sizing:border-box;transform:scaleX(0.812);transform-origin:right center;">188%</div>
<div class="" style="left:105px;top:300.00px;width:53.50px;height:10.93px;line-height:10.93px;text-align:left;padding-left:1.6px;box-sizing:border-box;transform:scaleX(0.858);transform-origin:left center;">Euro 6</div>
<div class="" style="left:158.5px;top:300.00px;width:40.00px;height:10.93px;line-height:10.93px;text-align:right;padding-right:1.5px;box-sizing:border-box;transform:scaleX(0.812);transform-origin:right center;">0</div>
<div class="" style="left:198.5px;top:300.00px;width:40.00px;height:10.93px;line-height:10.93px;text-align:right;padding-right:1.5px;box-sizing:border-box;transform:scaleX(0.812);transform-origin:right center;">0</div>
<div class="" style="left:237.8px;top:300.00px;width:44.00px;height:10.93px;line-height:10.93px;text-align:center;transform:scaleX(0.812);transform-origin:center center;">0%</div>
<div class="" style="left:282.5px;top:300.00px;width:43.50px;height:10.93px;line-height:10.93px;text-align:center;transform:scaleX(0.812);transform-origin:center center;">15,33</div>
<div class="" style="left:326px;top:300.00px;width:43.50px;height:10.93px;line-height:10.93px;text-align:center;transform:scaleX(0.812);transform-origin:center center;">46,51</div>
<div class="" style="left:369.5px;top:300.00px;width:44.00px;height:10.93px;line-height:10.93px;text-align:right;padding-right:1.5px;box-sizing:border-box;transform:scaleX(0.812);transform-origin:right center;">203%</div>
<div class="" style="left:413.5px;top:300.00px;width:47.50px;height:10.93px;line-height:10.93px;text-align:right;padding-right:1.5px;box-sizing:border-box;transform:scaleX(0.812);transform-origin:right center;">1</div>
<div class="" style="left:462px;top:300.00px;width:48.00px;height:10.93px;line-height:10.93px;text-align:right;padding-right:1.5px;box-sizing:border-box;transform:scaleX(0.812);transform-origin:right center;">3</div>
<div class="" style="left:510px;top:300.00px;width:50.00px;height:10.93px;line-height:10.93px;text-align:right;padding-right:1.5px;box-sizing:border-box;transform:scaleX(0.812);transform-origin:right center;">2</div>
<div class="" style="left:560px;top:300.00px;width:42.40px;height:10.93px;line-height:10.93px;text-align:right;padding-right:1.5px;box-sizing:border-box;transform:scaleX(0.812);transform-origin:right center;">203%</div>
<div class="b" style="left:105px;top:310.93px;width:53.50px;height:10.93px;line-height:10.93px;text-align:left;padding-left:1.6px;box-sizing:border-box;transform:scaleX(0.858);transform-origin:left center;">Gasoline total</div>
<div class="b" style="left:158.5px;top:310.93px;width:40.00px;height:10.93px;line-height:10.93px;text-align:right;padding-right:1.5px;box-sizing:border-box;transform:scaleX(0.826);transform-origin:right center;">6.118</div>
<div class="b" style="left:198.5px;top:310.93px;width:40.00px;height:10.93px;line-height:10.93px;text-align:right;padding-right:1.5px;box-sizing:border-box;transform:scaleX(0.826);transform-origin:right center;">6.118</div>
<div class="b" style="left:237.8px;top:310.93px;width:44.00px;height:10.93px;line-height:10.93px;text-align:center;transform:scaleX(0.826);transform-origin:center center;">0%</div>
<div class="b" style="left:282.5px;top:310.93px;width:43.50px;height:10.93px;line-height:10.93px;text-align:center;transform:scaleX(0.826);transform-origin:center center;">229,35</div>
<div class="b" style="left:326px;top:310.93px;width:43.50px;height:10.93px;line-height:10.93px;text-align:center;transform:scaleX(0.826);transform-origin:center center;">198,57</div>
<div class="b" style="left:369.5px;top:310.93px;width:44.00px;height:10.93px;line-height:10.93px;text-align:right;padding-right:1.5px;box-sizing:border-box;transform:scaleX(0.826);transform-origin:right center;">-13%</div>
<div class="b" style="left:413.5px;top:310.93px;width:47.50px;height:10.93px;line-height:10.93px;text-align:right;padding-right:1.5px;box-sizing:border-box;transform:scaleX(0.826);transform-origin:right center;">1.403.081</div>
<div class="b" style="left:462px;top:310.93px;width:48.00px;height:10.93px;line-height:10.93px;text-align:right;padding-right:1.5px;box-sizing:border-box;transform:scaleX(0.826);transform-origin:right center;">1.214.776</div>
<div class="b" style="left:510px;top:310.93px;width:50.00px;height:10.93px;line-height:10.93px;text-align:right;padding-right:1.5px;box-sizing:border-box;transform:scaleX(0.826);transform-origin:right center;">-188.305</div>
<div class="b" style="left:560px;top:310.93px;width:42.40px;height:10.93px;line-height:10.93px;text-align:right;padding-right:1.5px;box-sizing:border-box;transform:scaleX(0.826);transform-origin:right center;">-13%</div>
<div class="" style="left:62px;top:234.44px;width:43.00px;height:87.42px;line-height:87.42px;text-align:center;transform:scaleX(0.858);transform-origin:center center;">Gasoline</div>
<div class="" style="left:105px;top:321.86px;width:53.50px;height:10.93px;line-height:10.93px;text-align:left;padding-left:1.6px;box-sizing:border-box;transform:scaleX(0.858);transform-origin:left center;">pre-Euro</div>
<div class="" style="left:158.5px;top:321.86px;width:40.00px;height:10.93px;line-height:10.93px;text-align:right;padding-right:1.5px;box-sizing:border-box;transform:scaleX(0.812);transform-origin:right center;">3.995</div>
<div class="" style="left:198.5px;top:321.86px;width:40.00px;height:10.93px;line-height:10.93px;text-align:right;padding-right:1.5px;box-sizing:border-box;transform:scaleX(0.812);transform-origin:right center;">3.995</div>
<div class="" style="left:237.8px;top:321.86px;width:44.00px;height:10.93px;line-height:10.93px;text-align:center;transform:scaleX(0.812);transform-origin:center center;">0%</div>
<div class="" style="left:282.5px;top:321.86px;width:43.50px;height:10.93px;line-height:10.93px;text-align:center;transform:scaleX(0.812);transform-origin:center center;">425,09</div>
<div class="" style="left:326px;top:321.86px;width:43.50px;height:10.93px;line-height:10.93px;text-align:center;transform:scaleX(0.812);transform-origin:center center;">306,79</div>
<div class="" style="left:369.5px;top:321.86px;width:44.00px;height:10.93px;line-height:10.93px;text-align:right;padding-right:1.5px;box-sizing:border-box;transform:scaleX(0.812);transform-origin:right center;">-28%</div>
<div class="" style="left:413.5px;top:321.86px;width:47.50px;height:10.93px;line-height:10.93px;text-align:right;padding-right:1.5px;box-sizing:border-box;transform:scaleX(0.812);transform-origin:right center;">1.698.200</div>
<div class="" style="left:462px;top:321.86px;width:48.00px;height:10.93px;line-height:10.93px;text-align:right;padding-right:1.5px;box-sizing:border-box;transform:scaleX(0.812);transform-origin:right center;">1.225.602</div>
<div class="" style="left:510px;top:321.86px;width:50.00px;height:10.93px;line-height:10.93px;text-align:right;padding-right:1.5px;box-sizing:border-box;transform:scaleX(0.812);transform-origin:right center;">-472.598</div>
<div class="" style="left:560px;top:321.86px;width:42.40px;height:10.93px;line-height:10.93px;text-align:right;padding-right:1.5px;box-sizing:border-box;transform:scaleX(0.812);transform-origin:right center;">-28%</div>
<div class="" style="left:105px;top:332.78px;width:53.50px;height:10.93px;line-height:10.93px;text-align:left;padding-left:1.6px;box-sizing:border-box;transform:scaleX(0.858);transform-origin:left center;">Euro 1</div>
<div class="" style="left:158.5px;top:332.78px;width:40.00px;height:10.93px;line-height:10.93px;text-align:right;padding-right:1.5px;box-sizing:border-box;transform:scaleX(0.812);transform-origin:right center;">4.787</div>
<div class="" style="left:198.5px;top:332.78px;width:40.00px;height:10.93px;line-height:10.93px;text-align:right;padding-right:1.5px;box-sizing:border-box;transform:scaleX(0.812);transform-origin:right center;">4.787</div>
<div class="" style="left:237.8px;top:332.78px;width:44.00px;height:10.93px;line-height:10.93px;text-align:center;transform:scaleX(0.812);transform-origin:center center;">0%</div>
<div class="" style="left:282.5px;top:332.78px;width:43.50px;height:10.93px;line-height:10.93px;text-align:center;transform:scaleX(0.812);transform-origin:center center;">395,71</div>
<div class="" style="left:326px;top:332.78px;width:43.50px;height:10.93px;line-height:10.93px;text-align:center;transform:scaleX(0.812);transform-origin:center center;">215,24</div>
<div class="" style="left:369.5px;top:332.78px;width:44.00px;height:10.93px;line-height:10.93px;text-align:right;padding-right:1.5px;box-sizing:border-box;transform:scaleX(0.812);transform-origin:right center;">-46%</div>
<div class="" style="left:413.5px;top:332.78px;width:47.50px;height:10.93px;line-height:10.93px;text-align:right;padding-right:1.5px;box-sizing:border-box;transform:scaleX(0.812);transform-origin:right center;">1.894.350</div>
<div class="" style="left:462px;top:332.78px;width:48.00px;height:10.93px;line-height:10.93px;text-align:right;padding-right:1.5px;box-sizing:border-box;transform:scaleX(0.812);transform-origin:right center;">1.030.425</div>
<div class="" style="left:510px;top:332.78px;width:50.00px;height:10.93px;line-height:10.93px;text-align:right;padding-right:1.5px;box-sizing:border-box;transform:scaleX(0.812);transform-origin:right center;">-863.925</div>
<div class="" style="left:560px;top:332.78px;width:42.40px;height:10.93px;line-height:10.93px;text-align:right;padding-right:1.5px;box-sizing:border-box;transform:scaleX(0.812);transform-origin:right center;">-46%</div>
<div class="" style="left:105px;top:343.71px;width:53.50px;height:10.93px;line-height:10.93px;text-align:left;padding-left:1.6px;box-sizing:border-box;transform:scaleX(0.858);transform-origin:left center;">Euro 2</div>
<div class="" style="left:158.5px;top:343.71px;width:40.00px;height:10.93px;line-height:10.93px;text-align:right;padding-right:1.5px;box-sizing:border-box;transform:scaleX(0.812);transform-origin:right center;">10.818</div>
<div class="" style="left:198.5px;top:343.71px;width:40.00px;height:10.93px;line-height:10.93px;text-align:right;padding-right:1.5px;box-sizing:border-box;transform:scaleX(0.812);transform-origin:right center;">10.818</div>
<div class="" style="left:237.8px;top:343.71px;width:44.00px;height:10.93px;line-height:10.93px;text-align:center;transform:scaleX(0.812);transform-origin:center center;">0%</div>
<div class="" style="left:282.5px;top:343.71px;width:43.50px;height:10.93px;line-height:10.93px;text-align:center;transform:scaleX(0.812);transform-origin:center center;">336,90</div>
<div class="" style="left:326px;top:343.71px;width:43.50px;height:10.93px;line-height:10.93px;text-align:center;transform:scaleX(0.812);transform-origin:center center;">193,29</div>
<div class="" style="left:369.5px;top:343.71px;width:44.00px;height:10.93px;line-height:10.93px;text-align:right;padding-right:1.5px;box-sizing:border-box;transform:scaleX(0.812);transform-origin:right center;">-43%</div>
<div class="" style="left:413.5px;top:343.71px;width:47.50px;height:10.93px;line-height:10.93px;text-align:right;padding-right:1.5px;box-sizing:border-box;transform:scaleX(0.812);transform-origin:right center;">3.644.592</div>
<div class="" style="left:462px;top:343.71px;width:48.00px;height:10.93px;line-height:10.93px;text-align:right;padding-right:1.5px;box-sizing:border-box;transform:scaleX(0.812);transform-origin:right center;">2.091.063</div>
<div class="" style="left:510px;top:343.71px;width:50.00px;height:10.93px;line-height:10.93px;text-align:right;padding-right:1.5px;box-sizing:border-box;transform:scaleX(0.812);transform-origin:right center;">-1.553.530</div>
<div class="" style="left:560px;top:343.71px;width:42.40px;height:10.93px;line-height:10.93px;text-align:right;padding-right:1.5px;box-sizing:border-box;transform:scaleX(0.812);transform-origin:right center;">-43%</div>
<div class="" style="left:105px;top:354.64px;width:53.50px;height:10.93px;line-height:10.93px;text-align:left;padding-left:1.6px;box-sizing:border-box;transform:scaleX(0.858);transform-origin:left center;">Euro 3</div>
<div class="" style="left:158.5px;top:354.64px;width:40.00px;height:10.93px;line-height:10.93px;text-align:right;padding-right:1.5px;box-sizing:border-box;transform:scaleX(0.812);transform-origin:right center;">28.876</div>
<div class="" style="left:198.5px;top:354.64px;width:40.00px;height:10.93px;line-height:10.93px;text-align:right;padding-right:1.5px;box-sizing:border-box;transform:scaleX(0.812);transform-origin:right center;">28.876</div>
<div class="" style="left:237.8px;top:354.64px;width:44.00px;height:10.93px;line-height:10.93px;text-align:center;transform:scaleX(0.812);transform-origin:center center;">0%</div>
<div class="" style="left:282.5px;top:354.64px;width:43.50px;height:10.93px;line-height:10.93px;text-align:center;transform:scaleX(0.812);transform-origin:center center;">541,53</div>
<div class="" style="left:326px;top:354.64px;width:43.50px;height:10.93px;line-height:10.93px;text-align:center;transform:scaleX(0.812);transform-origin:center center;">150,54</div>
<div class="" style="left:369.5px;top:354.64px;width:44.00px;height:10.93px;line-height:10.93px;text-align:right;padding-right:1.5px;box-sizing:border-box;transform:scaleX(0.812);transform-origin:right center;">-72%</div>
<div class="" style="left:413.5px;top:354.64px;width:47.50px;height:10.93px;line-height:10.93px;text-align:right;padding-right:1.5px;box-sizing:border-box;transform:scaleX(0.812);transform-origin:right center;">15.637.249</div>
<div class="" style="left:462px;top:354.64px;width:48.00px;height:10.93px;line-height:10.93px;text-align:right;padding-right:1.5px;box-sizing:border-box;transform:scaleX(0.812);transform-origin:right center;">4.346.870</div>
<div class="" style="left:510px;top:354.64px;width:50.00px;height:10.93px;line-height:10.93px;text-align:right;padding-right:1.5px;box-sizing:border-box;transform:scaleX(0.812);transform-origin:right center;">-11.290.379</div>
<div class="" style="left:560px;top:354.64px;width:42.40px;height:10.93px;line-height:10.93px;text-align:right;padding-right:1.5px;box-sizing:border-box;transform:scaleX(0.812);transform-origin:right center;">-72%</div>
<div class="" style="left:105px;top:365.56px;width:53.50px;height:10.93px;line-height:10.93px;text-align:left;padding-left:1.6px;box-sizing:border-box;transform:scaleX(0.858);transform-origin:left center;">Euro 4</div>
<div class="" style="left:158.5px;top:365.56px;width:40.00px;height:10.93px;line-height:10.93px;text-align:right;padding-right:1.5px;box-sizing:border-box;transform:scaleX(0.812);transform-origin:right center;">60.832</div>
<div class="" style="left:198.5px;top:365.56px;width:40.00px;height:10.93px;line-height:10.93px;text-align:right;padding-right:1.5px;box-sizing:border-box;transform:scaleX(0.812);transform-origin:right center;">60.832</div>
<div class="" style="left:237.8px;top:365.56px;width:44.00px;height:10.93px;line-height:10.93px;text-align:center;transform:scaleX(0.812);transform-origin:center center;">0%</div>
<div class="" style="left:282.5px;top:365.56px;width:43.50px;height:10.93px;line-height:10.93px;text-align:center;transform:scaleX(0.812);transform-origin:center center;">493,82</div>
<div class="" style="left:326px;top:365.56px;width:43.50px;height:10.93px;line-height:10.93px;text-align:center;transform:scaleX(0.812);transform-origin:center center;">89,26</div>
<div class="" style="left:369.5px;top:365.56px;width:44.00px;height:10.93px;line-height:10.93px;text-align:right;padding-right:1.5px;box-sizing:border-box;transform:scaleX(0.812);transform-origin:right center;">-82%</div>
<div class="" style="left:413.5px;top:365.56px;width:47.50px;height:10.93px;line-height:10.93px;text-align:right;padding-right:1.5px;box-sizing:border-box;transform:scaleX(0.812);transform-origin:right center;">30.039.914</div>
<div class="" style="left:462px;top:365.56px;width:48.00px;height:10.93px;line-height:10.93px;text-align:right;padding-right:1.5px;box-sizing:border-box;transform:scaleX(0.812);transform-origin:right center;">5.429.811</div>
<div class="" style="left:510px;top:365.56px;width:50.00px;height:10.93px;line-height:10.93px;text-align:right;padding-right:1.5px;box-sizing:border-box;transform:scaleX(0.812);transform-origin:right center;">-24.610.104</div>
<div class="" style="left:560px;top:365.56px;width:42.40px;height:10.93px;line-height:10.93px;text-align:right;padding-right:1.5px;box-sizing:border-box;transform:scaleX(0.812);transform-origin:right center;">-82%</div>
<div class="" style="left:105px;top:376.49px;width:53.50px;height:10.93px;line-height:10.93px;text-align:left;padding-left:1.6px;box-sizing:border-box;transform:scaleX(0.858);transform-origin:left center;">Euro 5</div>
<div class="" style="left:158.5px;top:376.49px;width:40.00px;height:10.93px;line-height:10.93px;text-align:right;padding-right:1.5px;box-sizing:border-box;transform:scaleX(0.812);transform-origin:right center;">6.659</div>
<div class="" style="left:198.5px;top:376.49px;width:40.00px;height:10.93px;line-height:10.93px;text-align:right;padding-right:1.5px;box-sizing:border-box;transform:scaleX(0.812);transform-origin:right center;">6.659</div>
<div class="" style="left:237.8px;top:376.49px;width:44.00px;height:10.93px;line-height:10.93px;text-align:center;transform:scaleX(0.812);transform-origin:center center;">0%</div>
<div class="" style="left:282.5px;top:376.49px;width:43.50px;height:10.93px;line-height:10.93px;text-align:center;transform:scaleX(0.812);transform-origin:center center;">440,05</div>
<div class="" style="left:326px;top:376.49px;width:43.50px;height:10.93px;line-height:10.93px;text-align:center;transform:scaleX(0.812);transform-origin:center center;">89,26</div>
<div class="" style="left:369.5px;top:376.49px;width:44.00px;height:10.93px;line-height:10.93px;text-align:right;padding-right:1.5px;box-sizing:border-box;transform:scaleX(0.812);transform-origin:right center;">-80%</div>
<div class="" style="left:413.5px;top:376.49px;width:47.50px;height:10.93px;line-height:10.93px;text-align:right;padding-right:1.5px;box-sizing:border-box;transform:scaleX(0.812);transform-origin:right center;">2.930.198</div>
<div class="" style="left:462px;top:376.49px;width:48.00px;height:10.93px;line-height:10.93px;text-align:right;padding-right:1.5px;box-sizing:border-box;transform:scaleX(0.812);transform-origin:right center;">594.364</div>
<div class="" style="left:510px;top:376.49px;width:50.00px;height:10.93px;line-height:10.93px;text-align:right;padding-right:1.5px;box-sizing:border-box;transform:scaleX(0.812);transform-origin:right center;">-2.335.835</div>
<div class="" style="left:560px;top:376.49px;width:42.40px;height:10.93px;line-height:10.93px;text-align:right;padding-right:1.5px;box-sizing:border-box;transform:scaleX(0.812);transform-origin:right center;">-80%</div>
<div class="" style="left:105px;top:387.42px;width:53.50px;height:10.93px;line-height:10.93px;text-align:left;padding-left:1.6px;box-sizing:border-box;transform:scaleX(0.858);transform-origin:left center;">Euro 6</div>
<div class="" style="left:158.5px;top:387.42px;width:40.00px;height:10.93px;line-height:10.93px;text-align:right;padding-right:1.5px;box-sizing:border-box;transform:scaleX(0.812);transform-origin:right center;">0</div>
<div class="" style="left:198.5px;top:387.42px;width:40.00px;height:10.93px;line-height:10.93px;text-align:right;padding-right:1.5px;box-sizing:border-box;transform:scaleX(0.812);transform-origin:right center;">0</div>
<div class="" style="left:237.8px;top:387.42px;width:44.00px;height:10.93px;line-height:10.93px;text-align:center;transform:scaleX(0.812);transform-origin:center center;">0%</div>
<div class="" style="left:282.5px;top:387.42px;width:43.50px;height:10.93px;line-height:10.93px;text-align:center;transform:scaleX(0.812);transform-origin:center center;">156,21</div>
<div class="" style="left:326px;top:387.42px;width:43.50px;height:10.93px;line-height:10.93px;text-align:center;transform:scaleX(0.812);transform-origin:center center;">89,26</div>
<div class="" style="left:369.5px;top:387.42px;width:44.00px;height:10.93px;line-height:10.93px;text-align:right;padding-right:1.5px;box-sizing:border-box;transform:scaleX(0.812);transform-origin:right center;">-43%</div>
<div class="" style="left:413.5px;top:387.42px;width:47.50px;height:10.93px;line-height:10.93px;text-align:right;padding-right:1.5px;box-sizing:border-box;transform:scaleX(0.812);transform-origin:right center;">14</div>
<div class="" style="left:462px;top:387.42px;width:48.00px;height:10.93px;line-height:10.93px;text-align:right;padding-right:1.5px;box-sizing:border-box;transform:scaleX(0.812);transform-origin:right center;">8</div>
<div class="" style="left:510px;top:387.42px;width:50.00px;height:10.93px;line-height:10.93px;text-align:right;padding-right:1.5px;box-sizing:border-box;transform:scaleX(0.812);transform-origin:right center;">-6</div>
<div class="" style="left:560px;top:387.42px;width:42.40px;height:10.93px;line-height:10.93px;text-align:right;padding-right:1.5px;box-sizing:border-box;transform:scaleX(0.812);transform-origin:right center;">-43%</div>
<div class="b" style="left:105px;top:398.34px;width:53.50px;height:10.93px;line-height:10.93px;text-align:left;padding-left:1.6px;box-sizing:border-box;transform:scaleX(0.858);transform-origin:left center;">Diesel oil total</div>
<div class="b" style="left:158.5px;top:398.34px;width:40.00px;height:10.93px;line-height:10.93px;text-align:right;padding-right:1.5px;box-sizing:border-box;transform:scaleX(0.826);transform-origin:right center;">115.967</div>
<div class="b" style="left:198.5px;top:398.34px;width:40.00px;height:10.93px;line-height:10.93px;text-align:right;padding-right:1.5px;box-sizing:border-box;transform:scaleX(0.826);transform-origin:right center;">115.967</div>
<div class="b" style="left:237.8px;top:398.34px;width:44.00px;height:10.93px;line-height:10.93px;text-align:center;transform:scaleX(0.826);transform-origin:center center;">0%</div>
<div class="b" style="left:282.5px;top:398.34px;width:43.50px;height:10.93px;line-height:10.93px;text-align:center;transform:scaleX(0.826);transform-origin:center center;">481,55</div>
<div class="b" style="left:326px;top:398.34px;width:43.50px;height:10.93px;line-height:10.93px;text-align:center;transform:scaleX(0.826);transform-origin:center center;">126,92</div>
<div class="b" style="left:369.5px;top:398.34px;width:44.00px;height:10.93px;line-height:10.93px;text-align:right;padding-right:1.5px;box-sizing:border-box;transform:scaleX(0.826);transform-origin:right center;">-74%</div>
<div class="b" style="left:413.5px;top:398.34px;width:47.50px;height:10.93px;line-height:10.93px;text-align:right;padding-right:1.5px;box-sizing:border-box;transform:scaleX(0.826);transform-origin:right center;">55.844.518</div>
<div class="b" style="left:462px;top:398.34px;width:48.00px;height:10.93px;line-height:10.93px;text-align:right;padding-right:1.5px;box-sizing:border-box;transform:scaleX(0.826);transform-origin:right center;">14.718.142</div>
<div class="b" style="left:510px;top:398.34px;width:50.00px;height:10.93px;line-height:10.93px;text-align:right;padding-right:1.5px;box-sizing:border-box;transform:scaleX(0.826);transform-origin:right center;">-41.126.376</div>
<div class="b" style="left:560px;top:398.34px;width:42.40px;height:10.93px;line-height:10.93px;text-align:right;padding-right:1.5px;box-sizing:border-box;transform:scaleX(0.826);transform-origin:right center;">-74%</div>
<div class="" style="left:62px;top:321.86px;width:43.00px;height:87.42px;line-height:87.42px;text-align:center;transform:scaleX(0.858);transform-origin:center center;">Diesel Oil</div>
<div class="b" style="left:105px;top:409.27px;width:53.50px;height:10.93px;line-height:10.93px;text-align:left;padding-left:1.6px;box-sizing:border-box;transform:scaleX(0.858);transform-origin:left center;">LDVs Total</div>
<div class="b" style="left:158.5px;top:409.27px;width:40.00px;height:10.93px;line-height:10.93px;text-align:right;padding-right:1.5px;box-sizing:border-box;transform:scaleX(0.826);transform-origin:right center;">122.085</div>
<div class="b" style="left:198.5px;top:409.27px;width:40.00px;height:10.93px;line-height:10.93px;text-align:right;padding-right:1.5px;box-sizing:border-box;transform:scaleX(0.826);transform-origin:right center;">122.085</div>
<div class="b" style="left:237.8px;top:409.27px;width:44.00px;height:10.93px;line-height:10.93px;text-align:center;transform:scaleX(0.826);transform-origin:center center;">0%</div>
<div class="b" style="left:282.5px;top:409.27px;width:43.50px;height:10.93px;line-height:10.93px;text-align:center;transform:scaleX(0.826);transform-origin:center center;">468,92</div>
<div class="b" style="left:326px;top:409.27px;width:43.50px;height:10.93px;line-height:10.93px;text-align:center;transform:scaleX(0.826);transform-origin:center center;">130,51</div>
<div class="b" style="left:369.5px;top:409.27px;width:44.00px;height:10.93px;line-height:10.93px;text-align:right;padding-right:1.5px;box-sizing:border-box;transform:scaleX(0.826);transform-origin:right center;">-72%</div>
<div class="b" style="left:413.5px;top:409.27px;width:47.50px;height:10.93px;line-height:10.93px;text-align:right;padding-right:1.5px;box-sizing:border-box;transform:scaleX(0.826);transform-origin:right center;">57.247.599</div>
<div class="b" style="left:462px;top:409.27px;width:48.00px;height:10.93px;line-height:10.93px;text-align:right;padding-right:1.5px;box-sizing:border-box;transform:scaleX(0.826);transform-origin:right center;">15.932.918</div>
<div class="b" style="left:510px;top:409.27px;width:50.00px;height:10.93px;line-height:10.93px;text-align:right;padding-right:1.5px;box-sizing:border-box;transform:scaleX(0.826);transform-origin:right center;">-41.314.681</div>
<div class="b" style="left:560px;top:409.27px;width:42.40px;height:10.93px;line-height:10.93px;text-align:right;padding-right:1.5px;box-sizing:border-box;transform:scaleX(0.826);transform-origin:right center;">-72%</div>
<div class="b nfr" style="left:9px;top:234.44px;width:53px;height:185.76px"><span>1.A.3.b ii &nbsp;-<br>Light Duty<br>Vehicles<br>(LDVs)</span></div>
<div class="" style="left:105px;top:420.20px;width:53.50px;height:10.93px;line-height:10.93px;text-align:left;padding-left:1.6px;box-sizing:border-box;transform:scaleX(0.858);transform-origin:left center;">pre-Euro</div>
<div class="" style="left:158.5px;top:420.20px;width:40.00px;height:10.93px;line-height:10.93px;text-align:right;padding-right:1.5px;box-sizing:border-box;transform:scaleX(0.812);transform-origin:right center;">2.620</div>
<div class="" style="left:198.5px;top:420.20px;width:40.00px;height:10.93px;line-height:10.93px;text-align:right;padding-right:1.5px;box-sizing:border-box;transform:scaleX(0.812);transform-origin:right center;">2.620</div>
<div class="" style="left:237.8px;top:420.20px;width:44.00px;height:10.93px;line-height:10.93px;text-align:center;transform:scaleX(0.812);transform-origin:center center;">0%</div>
<div class="" style="left:282.5px;top:420.20px;width:43.50px;height:10.93px;line-height:10.93px;text-align:center;transform:scaleX(0.812);transform-origin:center center;">1082,69</div>
<div class="" style="left:326px;top:420.20px;width:43.50px;height:10.93px;line-height:10.93px;text-align:center;transform:scaleX(0.812);transform-origin:center center;">1019,78</div>
<div class="" style="left:369.5px;top:420.20px;width:44.00px;height:10.93px;line-height:10.93px;text-align:right;padding-right:1.5px;box-sizing:border-box;transform:scaleX(0.812);transform-origin:right center;">-6%</div>
<div class="" style="left:413.5px;top:420.20px;width:47.50px;height:10.93px;line-height:10.93px;text-align:right;padding-right:1.5px;box-sizing:border-box;transform:scaleX(0.812);transform-origin:right center;">2.836.109</div>
<div class="" style="left:462px;top:420.20px;width:48.00px;height:10.93px;line-height:10.93px;text-align:right;padding-right:1.5px;box-sizing:border-box;transform:scaleX(0.812);transform-origin:right center;">2.671.331</div>
<div class="" style="left:510px;top:420.20px;width:50.00px;height:10.93px;line-height:10.93px;text-align:right;padding-right:1.5px;box-sizing:border-box;transform:scaleX(0.812);transform-origin:right center;">-164.778</div>
<div class="" style="left:560px;top:420.20px;width:42.40px;height:10.93px;line-height:10.93px;text-align:right;padding-right:1.5px;box-sizing:border-box;transform:scaleX(0.812);transform-origin:right center;">-6%</div>
<div class="" style="left:105px;top:431.13px;width:53.50px;height:10.93px;line-height:10.93px;text-align:left;padding-left:1.6px;box-sizing:border-box;transform:scaleX(0.858);transform-origin:left center;">Euro I</div>
<div class="" style="left:158.5px;top:431.13px;width:40.00px;height:10.93px;line-height:10.93px;text-align:right;padding-right:1.5px;box-sizing:border-box;transform:scaleX(0.812);transform-origin:right center;">2.258</div>
<div class="" style="left:198.5px;top:431.13px;width:40.00px;height:10.93px;line-height:10.93px;text-align:right;padding-right:1.5px;box-sizing:border-box;transform:scaleX(0.812);transform-origin:right center;">2.258</div>
<div class="" style="left:237.8px;top:431.13px;width:44.00px;height:10.93px;line-height:10.93px;text-align:center;transform:scaleX(0.812);transform-origin:center center;">0%</div>
<div class="" style="left:282.5px;top:431.13px;width:43.50px;height:10.93px;line-height:10.93px;text-align:center;transform:scaleX(0.812);transform-origin:center center;">752,91</div>
<div class="" style="left:326px;top:431.13px;width:43.50px;height:10.93px;line-height:10.93px;text-align:center;transform:scaleX(0.812);transform-origin:center center;">751,40</div>
<div class="" style="left:369.5px;top:431.13px;width:44.00px;height:10.93px;line-height:10.93px;text-align:right;padding-right:1.5px;box-sizing:border-box;transform:scaleX(0.812);transform-origin:right center;">0%</div>
<div class="" style="left:413.5px;top:431.13px;width:47.50px;height:10.93px;line-height:10.93px;text-align:right;padding-right:1.5px;box-sizing:border-box;transform:scaleX(0.812);transform-origin:right center;">1.699.707</div>
<div class="" style="left:462px;top:431.13px;width:48.00px;height:10.93px;line-height:10.93px;text-align:right;padding-right:1.5px;box-sizing:border-box;transform:scaleX(0.812);transform-origin:right center;">1.696.297</div>
<div class="" style="left:510px;top:431.13px;width:50.00px;height:10.93px;line-height:10.93px;text-align:right;padding-right:1.5px;box-sizing:border-box;transform:scaleX(0.812);transform-origin:right center;">-3.410</div>
<div class="" style="left:560px;top:431.13px;width:42.40px;height:10.93px;line-height:10.93px;text-align:right;padding-right:1.5px;box-sizing:border-box;transform:scaleX(0.812);transform-origin:right center;">0%</div>
<div class="" style="left:105px;top:442.05px;width:53.50px;height:10.93px;line-height:10.93px;text-align:left;padding-left:1.6px;box-sizing:border-box;transform:scaleX(0.858);transform-origin:left center;">Euro II</div>
<div class="" style="left:158.5px;top:442.05px;width:40.00px;height:10.93px;line-height:10.93px;text-align:right;padding-right:1.5px;box-sizing:border-box;transform:scaleX(0.812);transform-origin:right center;">9.074</div>
<div class="" style="left:198.5px;top:442.05px;width:40.00px;height:10.93px;line-height:10.93px;text-align:right;padding-right:1.5px;box-sizing:border-box;transform:scaleX(0.812);transform-origin:right center;">9.074</div>
<div class="" style="left:237.8px;top:442.05px;width:44.00px;height:10.93px;line-height:10.93px;text-align:center;transform:scaleX(0.812);transform-origin:center center;">0%</div>
<div class="" style="left:282.5px;top:442.05px;width:43.50px;height:10.93px;line-height:10.93px;text-align:center;transform:scaleX(0.812);transform-origin:center center;">804,17</div>
<div class="" style="left:326px;top:442.05px;width:43.50px;height:10.93px;line-height:10.93px;text-align:center;transform:scaleX(0.812);transform-origin:center center;">643,36</div>
<div class="" style="left:369.5px;top:442.05px;width:44.00px;height:10.93px;line-height:10.93px;text-align:right;padding-right:1.5px;box-sizing:border-box;transform:scaleX(0.812);transform-origin:right center;">-20%</div>
<div class="" style="left:413.5px;top:442.05px;width:47.50px;height:10.93px;line-height:10.93px;text-align:right;padding-right:1.5px;box-sizing:border-box;transform:scaleX(0.812);transform-origin:right center;">7.297.125</div>
<div class="" style="left:462px;top:442.05px;width:48.00px;height:10.93px;line-height:10.93px;text-align:right;padding-right:1.5px;box-sizing:border-box;transform:scaleX(0.812);transform-origin:right center;">5.837.959</div>
<div class="" style="left:510px;top:442.05px;width:50.00px;height:10.93px;line-height:10.93px;text-align:right;padding-right:1.5px;box-sizing:border-box;transform:scaleX(0.812);transform-origin:right center;">-1.459.166</div>
<div class="" style="left:560px;top:442.05px;width:42.40px;height:10.93px;line-height:10.93px;text-align:right;padding-right:1.5px;box-sizing:border-box;transform:scaleX(0.812);transform-origin:right center;">-20%</div>
<div class="" style="left:105px;top:452.98px;width:53.50px;height:10.93px;line-height:10.93px;text-align:left;padding-left:1.6px;box-sizing:border-box;transform:scaleX(0.858);transform-origin:left center;">Euro III</div>
<div class="" style="left:158.5px;top:452.98px;width:40.00px;height:10.93px;line-height:10.93px;text-align:right;padding-right:1.5px;box-sizing:border-box;transform:scaleX(0.812);transform-origin:right center;">14.887</div>
<div class="" style="left:198.5px;top:452.98px;width:40.00px;height:10.93px;line-height:10.93px;text-align:right;padding-right:1.5px;box-sizing:border-box;transform:scaleX(0.812);transform-origin:right center;">14.887</div>
<div class="" style="left:237.8px;top:452.98px;width:44.00px;height:10.93px;line-height:10.93px;text-align:center;transform:scaleX(0.812);transform-origin:center center;">0%</div>
<div class="" style="left:282.5px;top:452.98px;width:43.50px;height:10.93px;line-height:10.93px;text-align:center;transform:scaleX(0.812);transform-origin:center center;">633,16</div>
<div class="" style="left:326px;top:452.98px;width:43.50px;height:10.93px;line-height:10.93px;text-align:center;transform:scaleX(0.812);transform-origin:center center;">457,38</div>
<div class="" style="left:369.5px;top:452.98px;width:44.00px;height:10.93px;line-height:10.93px;text-align:right;padding-right:1.5px;box-sizing:border-box;transform:scaleX(0.812);transform-origin:right center;">-28%</div>
<div class="" style="left:413.5px;top:452.98px;width:47.50px;height:10.93px;line-height:10.93px;text-align:right;padding-right:1.5px;box-sizing:border-box;transform:scaleX(0.812);transform-origin:right center;">9.425.890</div>
<div class="" style="left:462px;top:452.98px;width:48.00px;height:10.93px;line-height:10.93px;text-align:right;padding-right:1.5px;box-sizing:border-box;transform:scaleX(0.812);transform-origin:right center;">6.809.064</div>
<div class="" style="left:510px;top:452.98px;width:50.00px;height:10.93px;line-height:10.93px;text-align:right;padding-right:1.5px;box-sizing:border-box;transform:scaleX(0.812);transform-origin:right center;">-2.616.827</div>
<div class="" style="left:560px;top:452.98px;width:42.40px;height:10.93px;line-height:10.93px;text-align:right;padding-right:1.5px;box-sizing:border-box;transform:scaleX(0.812);transform-origin:right center;">-28%</div>
<div class="" style="left:105px;top:463.91px;width:53.50px;height:10.93px;line-height:10.93px;text-align:left;padding-left:1.6px;box-sizing:border-box;transform:scaleX(0.858);transform-origin:left center;">Euro IV</div>
<div class="" style="left:158.5px;top:463.91px;width:40.00px;height:10.93px;line-height:10.93px;text-align:right;padding-right:1.5px;box-sizing:border-box;transform:scaleX(0.812);transform-origin:right center;">5.131</div>
<div class="" style="left:198.5px;top:463.91px;width:40.00px;height:10.93px;line-height:10.93px;text-align:right;padding-right:1.5px;box-sizing:border-box;transform:scaleX(0.812);transform-origin:right center;">5.131</div>
<div class="" style="left:237.8px;top:463.91px;width:44.00px;height:10.93px;line-height:10.93px;text-align:center;transform:scaleX(0.812);transform-origin:center center;">0%</div>
<div class="" style="left:282.5px;top:463.91px;width:43.50px;height:10.93px;line-height:10.93px;text-align:center;transform:scaleX(0.812);transform-origin:center center;">448,88</div>
<div class="" style="left:326px;top:463.91px;width:43.50px;height:10.93px;line-height:10.93px;text-align:center;transform:scaleX(0.812);transform-origin:center center;">351,81</div>
<div class="" style="left:369.5px;top:463.91px;width:44.00px;height:10.93px;line-height:10.93px;text-align:right;padding-right:1.5px;box-sizing:border-box;transform:scaleX(0.812);transform-origin:right center;">-22%</div>
<div class="" style="left:413.5px;top:463.91px;width:47.50px;height:10.93px;line-height:10.93px;text-align:right;padding-right:1.5px;box-sizing:border-box;transform:scaleX(0.812);transform-origin:right center;">2.303.338</div>
<div class="" style="left:462px;top:463.91px;width:48.00px;height:10.93px;line-height:10.93px;text-align:right;padding-right:1.5px;box-sizing:border-box;transform:scaleX(0.812);transform-origin:right center;">1.805.274</div>
<div class="" style="left:510px;top:463.91px;width:50.00px;height:10.93px;line-height:10.93px;text-align:right;padding-right:1.5px;box-sizing:border-box;transform:scaleX(0.812);transform-origin:right center;">-498.064</div>
<div class="" style="left:560px;top:463.91px;width:42.40px;height:10.93px;line-height:10.93px;text-align:right;padding-right:1.5px;box-sizing:border-box;transform:scaleX(0.812);transform-origin:right center;">-22%</div>
<div class="" style="left:105px;top:474.83px;width:53.50px;height:10.93px;line-height:10.93px;text-align:left;padding-left:1.6px;box-sizing:border-box;transform:scaleX(0.858);transform-origin:left center;">Euro V</div>
<div class="" style="left:158.5px;top:474.83px;width:40.00px;height:10.93px;line-height:10.93px;text-align:right;padding-right:1.5px;box-sizing:border-box;transform:scaleX(0.812);transform-origin:right center;">13.396</div>
<div class="" style="left:198.5px;top:474.83px;width:40.00px;height:10.93px;line-height:10.93px;text-align:right;padding-right:1.5px;box-sizing:border-box;transform:scaleX(0.812);transform-origin:right center;">13.396</div>
<div class="" style="left:237.8px;top:474.83px;width:44.00px;height:10.93px;line-height:10.93px;text-align:center;transform:scaleX(0.812);transform-origin:center center;">0%</div>
<div class="" style="left:282.5px;top:474.83px;width:43.50px;height:10.93px;line-height:10.93px;text-align:center;transform:scaleX(0.812);transform-origin:center center;">336,60</div>
<div class="" style="left:326px;top:474.83px;width:43.50px;height:10.93px;line-height:10.93px;text-align:center;transform:scaleX(0.812);transform-origin:center center;">182,62</div>
<div class="" style="left:369.5px;top:474.83px;width:44.00px;height:10.93px;line-height:10.93px;text-align:right;padding-right:1.5px;box-sizing:border-box;transform:scaleX(0.812);transform-origin:right center;">-46%</div>
<div class="" style="left:413.5px;top:474.83px;width:47.50px;height:10.93px;line-height:10.93px;text-align:right;padding-right:1.5px;box-sizing:border-box;transform:scaleX(0.812);transform-origin:right center;">4.509.052</div>
<div class="" style="left:462px;top:474.83px;width:48.00px;height:10.93px;line-height:10.93px;text-align:right;padding-right:1.5px;box-sizing:border-box;transform:scaleX(0.812);transform-origin:right center;">2.446.399</div>
<div class="" style="left:510px;top:474.83px;width:50.00px;height:10.93px;line-height:10.93px;text-align:right;padding-right:1.5px;box-sizing:border-box;transform:scaleX(0.812);transform-origin:right center;">-2.062.653</div>
<div class="" style="left:560px;top:474.83px;width:42.40px;height:10.93px;line-height:10.93px;text-align:right;padding-right:1.5px;box-sizing:border-box;transform:scaleX(0.812);transform-origin:right center;">-46%</div>
<div class="" style="left:105px;top:485.76px;width:53.50px;height:10.93px;line-height:10.93px;text-align:left;padding-left:1.6px;box-sizing:border-box;transform:scaleX(0.858);transform-origin:left center;">Euro VI</div>
<div class="" style="left:158.5px;top:485.76px;width:40.00px;height:10.93px;line-height:10.93px;text-align:right;padding-right:1.5px;box-sizing:border-box;transform:scaleX(0.812);transform-origin:right center;">0</div>
<div class="" style="left:198.5px;top:485.76px;width:40.00px;height:10.93px;line-height:10.93px;text-align:right;padding-right:1.5px;box-sizing:border-box;transform:scaleX(0.812);transform-origin:right center;">0</div>
<div class="" style="left:237.8px;top:485.76px;width:44.00px;height:10.93px;line-height:10.93px;text-align:center;transform:scaleX(0.812);transform-origin:center center;">0%</div>
<div class="" style="left:369.5px;top:485.76px;width:44.00px;height:10.93px;line-height:10.93px;text-align:right;padding-right:1.5px;box-sizing:border-box;transform:scaleX(0.812);transform-origin:right center;">0%</div>
<div class="" style="left:413.5px;top:485.76px;width:47.50px;height:10.93px;line-height:10.93px;text-align:left;padding-left:1.6px;box-sizing:border-box;transform:scaleX(0.812);transform-origin:left center;">0</div>
<div class="" style="left:462px;top:485.76px;width:48.00px;height:10.93px;line-height:10.93px;text-align:right;padding-right:1.5px;box-sizing:border-box;transform:scaleX(0.812);transform-origin:right center;">0</div>
<div class="" style="left:510px;top:485.76px;width:50.00px;height:10.93px;line-height:10.93px;text-align:right;padding-right:1.5px;box-sizing:border-box;transform:scaleX(0.812);transform-origin:right center;">0</div>
<div class="" style="left:560px;top:485.76px;width:42.40px;height:10.93px;line-height:10.93px;text-align:right;padding-right:1.5px;box-sizing:border-box;transform:scaleX(0.812);transform-origin:right center;">0%</div>
<div class="" style="left:62px;top:420.20px;width:43.00px;height:87.42px;line-height:87.42px;text-align:center;transform:scaleX(0.858);transform-origin:center center;">Diesel Oil</div>
<div class="b" style="left:105px;top:496.69px;width:53.50px;height:10.93px;line-height:10.93px;text-align:left;padding-left:1.6px;box-sizing:border-box;transform:scaleX(0.858);transform-origin:left center;">Buses Total</div>
<div class="b" style="left:158.5px;top:496.69px;width:40.00px;height:10.93px;line-height:10.93px;text-align:right;padding-right:1.5px;box-sizing:border-box;transform:scaleX(0.826);transform-origin:right center;">47.365</div>
<div class="b" style="left:198.5px;top:496.69px;width:40.00px;height:10.93px;line-height:10.93px;text-align:right;padding-right:1.5px;box-sizing:border-box;transform:scaleX(0.826);transform-origin:right center;">47.365</div>
<div class="b" style="left:237.8px;top:496.69px;width:44.00px;height:10.93px;line-height:10.93px;text-align:center;transform:scaleX(0.826);transform-origin:center center;">0%</div>
<div class="b" style="left:282.5px;top:496.69px;width:43.50px;height:10.93px;line-height:10.93px;text-align:center;transform:scaleX(0.826);transform-origin:center center;">592,65</div>
<div class="b" style="left:326px;top:496.69px;width:43.50px;height:10.93px;line-height:10.93px;text-align:center;transform:scaleX(0.826);transform-origin:center center;">448,99</div>
<div class="b" style="left:369.5px;top:496.69px;width:44.00px;height:10.93px;line-height:10.93px;text-align:right;padding-right:1.5px;box-sizing:border-box;transform:scaleX(0.826);transform-origin:right center;">-24%</div>
<div class="b" style="left:413.5px;top:496.69px;width:47.50px;height:10.93px;line-height:10.93px;text-align:right;padding-right:1.5px;box-sizing:border-box;transform:scaleX(0.826);transform-origin:right center;">28.071.221</div>
<div class="b" style="left:462px;top:496.69px;width:48.00px;height:10.93px;line-height:10.93px;text-align:right;padding-right:1.5px;box-sizing:border-box;transform:scaleX(0.826);transform-origin:right center;">21.266.323</div>
<div class="b" style="left:510px;top:496.69px;width:50.00px;height:10.93px;line-height:10.93px;text-align:right;padding-right:1.5px;box-sizing:border-box;transform:scaleX(0.826);transform-origin:right center;">-6.804.898</div>
<div class="b" style="left:560px;top:496.69px;width:42.40px;height:10.93px;line-height:10.93px;text-align:right;padding-right:1.5px;box-sizing:border-box;transform:scaleX(0.826);transform-origin:right center;">-24%</div>
<div class="b nfr" style="left:9px;top:420.20px;width:53px;height:87.42px"><span>1.A.3.b iii -<br>Heavy Duty<br>Vehicle:<br>Buses</span></div>
<div class="" style="left:105px;top:507.61px;width:53.50px;height:10.93px;line-height:10.93px;text-align:left;padding-left:1.6px;box-sizing:border-box;transform:scaleX(0.858);transform-origin:left center;">pre-Euro</div>
<div class="" style="left:158.5px;top:507.61px;width:40.00px;height:10.93px;line-height:10.93px;text-align:right;padding-right:1.5px;box-sizing:border-box;transform:scaleX(0.812);transform-origin:right center;">8.044</div>
<div class="" style="left:198.5px;top:507.61px;width:40.00px;height:10.93px;line-height:10.93px;text-align:right;padding-right:1.5px;box-sizing:border-box;transform:scaleX(0.812);transform-origin:right center;">8.044</div>
<div class="" style="left:237.8px;top:507.61px;width:44.00px;height:10.93px;line-height:10.93px;text-align:center;transform:scaleX(0.812);transform-origin:center center;">0%</div>
<div class="" style="left:282.5px;top:507.61px;width:43.50px;height:10.93px;line-height:10.93px;text-align:center;transform:scaleX(0.812);transform-origin:center center;">1038,67</div>
<div class="" style="left:326px;top:507.61px;width:43.50px;height:10.93px;line-height:10.93px;text-align:center;transform:scaleX(0.812);transform-origin:center center;">763,88</div>
<div class="" style="left:369.5px;top:507.61px;width:44.00px;height:10.93px;line-height:10.93px;text-align:right;padding-right:1.5px;box-sizing:border-box;transform:scaleX(0.812);transform-origin:right center;">-26%</div>
<div class="" style="left:413.5px;top:507.61px;width:47.50px;height:10.93px;line-height:10.93px;text-align:right;padding-right:1.5px;box-sizing:border-box;transform:scaleX(0.812);transform-origin:right center;">8.355.423</div>
<div class="" style="left:462px;top:507.61px;width:48.00px;height:10.93px;line-height:10.93px;text-align:right;padding-right:1.5px;box-sizing:border-box;transform:scaleX(0.812);transform-origin:right center;">6.144.933</div>
<div class="" style="left:510px;top:507.61px;width:50.00px;height:10.93px;line-height:10.93px;text-align:right;padding-right:1.5px;box-sizing:border-box;transform:scaleX(0.812);transform-origin:right center;">-2.210.491</div>
<div class="" style="left:560px;top:507.61px;width:42.40px;height:10.93px;line-height:10.93px;text-align:right;padding-right:1.5px;box-sizing:border-box;transform:scaleX(0.812);transform-origin:right center;">-26%</div>
<div class="" style="left:105px;top:518.54px;width:53.50px;height:10.93px;line-height:10.93px;text-align:left;padding-left:1.6px;box-sizing:border-box;transform:scaleX(0.858);transform-origin:left center;">Euro I</div>
<div class="" style="left:158.5px;top:518.54px;width:40.00px;height:10.93px;line-height:10.93px;text-align:right;padding-right:1.5px;box-sizing:border-box;transform:scaleX(0.812);transform-origin:right center;">4.384</div>
<div class="" style="left:198.5px;top:518.54px;width:40.00px;height:10.93px;line-height:10.93px;text-align:right;padding-right:1.5px;box-sizing:border-box;transform:scaleX(0.812);transform-origin:right center;">4.384</div>
<div class="" style="left:237.8px;top:518.54px;width:44.00px;height:10.93px;line-height:10.93px;text-align:center;transform:scaleX(0.812);transform-origin:center center;">0%</div>
<div class="" style="left:282.5px;top:518.54px;width:43.50px;height:10.93px;line-height:10.93px;text-align:center;transform:scaleX(0.812);transform-origin:center center;">750,16</div>
<div class="" style="left:326px;top:518.54px;width:43.50px;height:10.93px;line-height:10.93px;text-align:center;transform:scaleX(0.812);transform-origin:center center;">574,04</div>
<div class="" style="left:369.5px;top:518.54px;width:44.00px;height:10.93px;line-height:10.93px;text-align:right;padding-right:1.5px;box-sizing:border-box;transform:scaleX(0.812);transform-origin:right center;">-23%</div>
<div class="" style="left:413.5px;top:518.54px;width:47.50px;height:10.93px;line-height:10.93px;text-align:right;padding-right:1.5px;box-sizing:border-box;transform:scaleX(0.812);transform-origin:right center;">3.288.422</div>
<div class="" style="left:462px;top:518.54px;width:48.00px;height:10.93px;line-height:10.93px;text-align:right;padding-right:1.5px;box-sizing:border-box;transform:scaleX(0.812);transform-origin:right center;">2.516.377</div>
<div class="" style="left:510px;top:518.54px;width:50.00px;height:10.93px;line-height:10.93px;text-align:right;padding-right:1.5px;box-sizing:border-box;transform:scaleX(0.812);transform-origin:right center;">-772.044</div>
<div class="" style="left:560px;top:518.54px;width:42.40px;height:10.93px;line-height:10.93px;text-align:right;padding-right:1.5px;box-sizing:border-box;transform:scaleX(0.812);transform-origin:right center;">-23%</div>
<div class="" style="left:105px;top:529.47px;width:53.50px;height:10.93px;line-height:10.93px;text-align:left;padding-left:1.6px;box-sizing:border-box;transform:scaleX(0.858);transform-origin:left center;">Euro II</div>
<div class="" style="left:158.5px;top:529.47px;width:40.00px;height:10.93px;line-height:10.93px;text-align:right;padding-right:1.5px;box-sizing:border-box;transform:scaleX(0.812);transform-origin:right center;">29.277</div>
<div class="" style="left:198.5px;top:529.47px;width:40.00px;height:10.93px;line-height:10.93px;text-align:right;padding-right:1.5px;box-sizing:border-box;transform:scaleX(0.812);transform-origin:right center;">29.277</div>
<div class="" style="left:237.8px;top:529.47px;width:44.00px;height:10.93px;line-height:10.93px;text-align:center;transform:scaleX(0.812);transform-origin:center center;">0%</div>
<div class="" style="left:282.5px;top:529.47px;width:43.50px;height:10.93px;line-height:10.93px;text-align:center;transform:scaleX(0.812);transform-origin:center center;">817,97</div>
<div class="" style="left:326px;top:529.47px;width:43.50px;height:10.93px;line-height:10.93px;text-align:center;transform:scaleX(0.812);transform-origin:center center;">520,31</div>
<div class="" style="left:369.5px;top:529.47px;width:44.00px;height:10.93px;line-height:10.93px;text-align:right;padding-right:1.5px;box-sizing:border-box;transform:scaleX(0.812);transform-origin:right center;">-36%</div>
<div class="" style="left:413.5px;top:529.47px;width:47.50px;height:10.93px;line-height:10.93px;text-align:right;padding-right:1.5px;box-sizing:border-box;transform:scaleX(0.812);transform-origin:right center;">23.947.723</div>
<div class="" style="left:462px;top:529.47px;width:48.00px;height:10.93px;line-height:10.93px;text-align:right;padding-right:1.5px;box-sizing:border-box;transform:scaleX(0.812);transform-origin:right center;">15.233.223</div>
<div class="" style="left:510px;top:529.47px;width:50.00px;height:10.93px;line-height:10.93px;text-align:right;padding-right:1.5px;box-sizing:border-box;transform:scaleX(0.812);transform-origin:right center;">-8.714.499</div>
<div class="" style="left:560px;top:529.47px;width:42.40px;height:10.93px;line-height:10.93px;text-align:right;padding-right:1.5px;box-sizing:border-box;transform:scaleX(0.812);transform-origin:right center;">-36%</div>
<div class="" style="left:105px;top:540.40px;width:53.50px;height:10.93px;line-height:10.93px;text-align:left;padding-left:1.6px;box-sizing:border-box;transform:scaleX(0.858);transform-origin:left center;">Euro III</div>
<div class="" style="left:158.5px;top:540.40px;width:40.00px;height:10.93px;line-height:10.93px;text-align:right;padding-right:1.5px;box-sizing:border-box;transform:scaleX(0.812);transform-origin:right center;">121.581</div>
<div class="" style="left:198.5px;top:540.40px;width:40.00px;height:10.93px;line-height:10.93px;text-align:right;padding-right:1.5px;box-sizing:border-box;transform:scaleX(0.812);transform-origin:right center;">121.581</div>
<div class="" style="left:237.8px;top:540.40px;width:44.00px;height:10.93px;line-height:10.93px;text-align:center;transform:scaleX(0.812);transform-origin:center center;">0%</div>
<div class="" style="left:282.5px;top:540.40px;width:43.50px;height:10.93px;line-height:10.93px;text-align:center;transform:scaleX(0.812);transform-origin:center center;">635,56</div>
<div class="" style="left:326px;top:540.40px;width:43.50px;height:10.93px;line-height:10.93px;text-align:center;transform:scaleX(0.812);transform-origin:center center;">372,69</div>
<div class="" style="left:369.5px;top:540.40px;width:44.00px;height:10.93px;line-height:10.93px;text-align:right;padding-right:1.5px;box-sizing:border-box;transform:scaleX(0.812);transform-origin:right center;">-41%</div>
<div class="" style="left:413.5px;top:540.40px;width:47.50px;height:10.93px;line-height:10.93px;text-align:right;padding-right:1.5px;box-sizing:border-box;transform:scaleX(0.812);transform-origin:right center;">77.271.520</div>
<div class="" style="left:462px;top:540.40px;width:48.00px;height:10.93px;line-height:10.93px;text-align:right;padding-right:1.5px;box-sizing:border-box;transform:scaleX(0.812);transform-origin:right center;">45.312.437</div>
<div class="" style="left:510px;top:540.40px;width:50.00px;height:10.93px;line-height:10.93px;text-align:right;padding-right:1.5px;box-sizing:border-box;transform:scaleX(0.812);transform-origin:right center;">-31.959.084</div>
<div class="" style="left:560px;top:540.40px;width:42.40px;height:10.93px;line-height:10.93px;text-align:right;padding-right:1.5px;box-sizing:border-box;transform:scaleX(0.812);transform-origin:right center;">-41%</div>
<div class="" style="left:105px;top:551.32px;width:53.50px;height:10.93px;line-height:10.93px;text-align:left;padding-left:1.6px;box-sizing:border-box;transform:scaleX(0.858);transform-origin:left center;">Euro IV</div>
<div class="" style="left:158.5px;top:551.32px;width:40.00px;height:10.93px;line-height:10.93px;text-align:right;padding-right:1.5px;box-sizing:border-box;transform:scaleX(0.812);transform-origin:right center;">58.430</div>
<div class="" style="left:198.5px;top:551.32px;width:40.00px;height:10.93px;line-height:10.93px;text-align:right;padding-right:1.5px;box-sizing:border-box;transform:scaleX(0.812);transform-origin:right center;">58.430</div>
<div class="" style="left:237.8px;top:551.32px;width:44.00px;height:10.93px;line-height:10.93px;text-align:center;transform:scaleX(0.812);transform-origin:center center;">0%</div>
<div class="" style="left:282.5px;top:551.32px;width:43.50px;height:10.93px;line-height:10.93px;text-align:center;transform:scaleX(0.812);transform-origin:center center;">393,25</div>
<div class="" style="left:326px;top:551.32px;width:43.50px;height:10.93px;line-height:10.93px;text-align:center;transform:scaleX(0.812);transform-origin:center center;">289,40</div>
<div class="" style="left:369.5px;top:551.32px;width:44.00px;height:10.93px;line-height:10.93px;text-align:right;padding-right:1.5px;box-sizing:border-box;transform:scaleX(0.812);transform-origin:right center;">-26%</div>
<div class="" style="left:413.5px;top:551.32px;width:47.50px;height:10.93px;line-height:10.93px;text-align:right;padding-right:1.5px;box-sizing:border-box;transform:scaleX(0.812);transform-origin:right center;">22.977.704</div>
<div class="" style="left:462px;top:551.32px;width:48.00px;height:10.93px;line-height:10.93px;text-align:right;padding-right:1.5px;box-sizing:border-box;transform:scaleX(0.812);transform-origin:right center;">16.909.685</div>
<div class="" style="left:510px;top:551.32px;width:50.00px;height:10.93px;line-height:10.93px;text-align:right;padding-right:1.5px;box-sizing:border-box;transform:scaleX(0.812);transform-origin:right center;">-6.068.019</div>
<div class="" style="left:560px;top:551.32px;width:42.40px;height:10.93px;line-height:10.93px;text-align:right;padding-right:1.5px;box-sizing:border-box;transform:scaleX(0.812);transform-origin:right center;">-26%</div>
<div class="" style="left:105px;top:562.25px;width:53.50px;height:10.93px;line-height:10.93px;text-align:left;padding-left:1.6px;box-sizing:border-box;transform:scaleX(0.858);transform-origin:left center;">Euro V</div>
<div class="" style="left:158.5px;top:562.25px;width:40.00px;height:10.93px;line-height:10.93px;text-align:right;padding-right:1.5px;box-sizing:border-box;transform:scaleX(0.812);transform-origin:right center;">342.175</div>
<div class="" style="left:198.5px;top:562.25px;width:40.00px;height:10.93px;line-height:10.93px;text-align:right;padding-right:1.5px;box-sizing:border-box;transform:scaleX(0.812);transform-origin:right center;">342.175</div>
<div class="" style="left:237.8px;top:562.25px;width:44.00px;height:10.93px;line-height:10.93px;text-align:center;transform:scaleX(0.812);transform-origin:center center;">0%</div>
<div class="" style="left:282.5px;top:562.25px;width:43.50px;height:10.93px;line-height:10.93px;text-align:center;transform:scaleX(0.812);transform-origin:center center;">279,30</div>
<div class="" style="left:326px;top:562.25px;width:43.50px;height:10.93px;line-height:10.93px;text-align:center;transform:scaleX(0.812);transform-origin:center center;">152,03</div>
<div class="" style="left:369.5px;top:562.25px;width:44.00px;height:10.93px;line-height:10.93px;text-align:right;padding-right:1.5px;box-sizing:border-box;transform:scaleX(0.812);transform-origin:right center;">-46%</div>
<div class="" style="left:413.5px;top:562.25px;width:47.50px;height:10.93px;line-height:10.93px;text-align:right;padding-right:1.5px;box-sizing:border-box;transform:scaleX(0.812);transform-origin:right center;">95.569.479</div>
<div class="" style="left:462px;top:562.25px;width:48.00px;height:10.93px;line-height:10.93px;text-align:right;padding-right:1.5px;box-sizing:border-box;transform:scaleX(0.812);transform-origin:right center;">52.019.687</div>
<div class="" style="left:510px;top:562.25px;width:50.00px;height:10.93px;line-height:10.93px;text-align:right;padding-right:1.5px;box-sizing:border-box;transform:scaleX(0.812);transform-origin:right center;">-43.549.793</div>
<div class="" style="left:560px;top:562.25px;width:42.40px;height:10.93px;line-height:10.93px;text-align:right;padding-right:1.5px;box-sizing:border-box;transform:scaleX(0.812);transform-origin:right center;">-46%</div>
<div class="" style="left:105px;top:573.18px;width:53.50px;height:10.93px;line-height:10.93px;text-align:left;padding-left:1.6px;box-sizing:border-box;transform:scaleX(0.858);transform-origin:left center;">Euro VI</div>
<div class="" style="left:158.5px;top:573.18px;width:40.00px;height:10.93px;line-height:10.93px;text-align:right;padding-right:1.5px;box-sizing:border-box;transform:scaleX(0.812);transform-origin:right center;">0</div>
<div class="" style="left:198.5px;top:573.18px;width:40.00px;height:10.93px;line-height:10.93px;text-align:right;padding-right:1.5px;box-sizing:border-box;transform:scaleX(0.812);transform-origin:right center;">0</div>
<div class="" style="left:237.8px;top:573.18px;width:44.00px;height:10.93px;line-height:10.93px;text-align:center;transform:scaleX(0.812);transform-origin:center center;">0%</div>
<div class="" style="left:369.5px;top:573.18px;width:44.00px;height:10.93px;line-height:10.93px;text-align:right;padding-right:1.5px;box-sizing:border-box;transform:scaleX(0.812);transform-origin:right center;">0%</div>
<div class="" style="left:413.5px;top:573.18px;width:47.50px;height:10.93px;line-height:10.93px;text-align:left;padding-left:1.6px;box-sizing:border-box;transform:scaleX(0.812);transform-origin:left center;">0</div>
<div class="" style="left:462px;top:573.18px;width:48.00px;height:10.93px;line-height:10.93px;text-align:right;padding-right:1.5px;box-sizing:border-box;transform:scaleX(0.812);transform-origin:right center;">0</div>
<div class="" style="left:510px;top:573.18px;width:50.00px;height:10.93px;line-height:10.93px;text-align:right;padding-right:1.5px;box-sizing:border-box;transform:scaleX(0.812);transform-origin:right center;">0</div>
<div class="" style="left:560px;top:573.18px;width:42.40px;height:10.93px;line-height:10.93px;text-align:right;padding-right:1.5px;box-sizing:border-box;transform:scaleX(0.812);transform-origin:right center;">0%</div>
<div class="" style="left:62px;top:507.61px;width:43.00px;height:87.42px;line-height:87.42px;text-align:center;transform:scaleX(0.858);transform-origin:center center;">Diesel Oil</div>
<div class="b" style="left:105px;top:584.10px;width:53.50px;height:10.93px;line-height:10.93px;text-align:left;padding-left:1.6px;box-sizing:border-box;transform:scaleX(0.858);transform-origin:left center;">Trucks Total</div>
<div class="b" style="left:158.5px;top:584.10px;width:40.00px;height:10.93px;line-height:10.93px;text-align:right;padding-right:1.5px;box-sizing:border-box;transform:scaleX(0.826);transform-origin:right center;">563.891</div>
<div class="b" style="left:198.5px;top:584.10px;width:40.00px;height:10.93px;line-height:10.93px;text-align:right;padding-right:1.5px;box-sizing:border-box;transform:scaleX(0.826);transform-origin:right center;">563.891</div>
<div class="b" style="left:237.8px;top:584.10px;width:44.00px;height:10.93px;line-height:10.93px;text-align:center;transform:scaleX(0.826);transform-origin:center center;">0%</div>
<div class="b" style="left:282.5px;top:584.10px;width:43.50px;height:10.93px;line-height:10.93px;text-align:center;transform:scaleX(0.826);transform-origin:center center;">410,38</div>
<div class="b" style="left:326px;top:584.10px;width:43.50px;height:10.93px;line-height:10.93px;text-align:center;transform:scaleX(0.826);transform-origin:center center;">244,97</div>
<div class="b" style="left:369.5px;top:584.10px;width:44.00px;height:10.93px;line-height:10.93px;text-align:right;padding-right:1.5px;box-sizing:border-box;transform:scaleX(0.826);transform-origin:right center;">-40%</div>
<div class="b" style="left:413.5px;top:584.10px;width:47.50px;height:10.93px;line-height:10.93px;text-align:right;padding-right:1.5px;box-sizing:border-box;transform:scaleX(0.826);transform-origin:right center;">231.410.271</div>
<div class="b" style="left:462px;top:584.10px;width:48.00px;height:10.93px;line-height:10.93px;text-align:right;padding-right:1.5px;box-sizing:border-box;transform:scaleX(0.826);transform-origin:right center;">138.136.342</div>
<div class="b" style="left:510px;top:584.10px;width:50.00px;height:10.93px;line-height:10.93px;text-align:right;padding-right:1.5px;box-sizing:border-box;transform:scaleX(0.826);transform-origin:right center;">-93.273.929</div>
<div class="b" style="left:560px;top:584.10px;width:42.40px;height:10.93px;line-height:10.93px;text-align:right;padding-right:1.5px;box-sizing:border-box;transform:scaleX(0.826);transform-origin:right center;">-40%</div>
<div class="b nfr" style="left:9px;top:507.61px;width:53px;height:87.42px"><span>1.A.3.b iii -<br>Heavy Duty<br>Vehicle:<br>Trucks &amp;<br>Lorries</span></div>
<div class="" style="left:105px;top:595.03px;width:53.50px;height:10.93px;line-height:10.93px;text-align:left;padding-left:1.6px;box-sizing:border-box;transform:scaleX(0.858);transform-origin:left center;">pre-Euro</div>
<div class="" style="left:158.5px;top:595.03px;width:40.00px;height:10.93px;line-height:10.93px;text-align:right;padding-right:1.5px;box-sizing:border-box;transform:scaleX(0.812);transform-origin:right center;">7.389</div>
<div class="" style="left:198.5px;top:595.03px;width:40.00px;height:10.93px;line-height:10.93px;text-align:right;padding-right:1.5px;box-sizing:border-box;transform:scaleX(0.812);transform-origin:right center;">7.389</div>
<div class="" style="left:237.8px;top:595.03px;width:44.00px;height:10.93px;line-height:10.93px;text-align:center;transform:scaleX(0.812);transform-origin:center center;">0%</div>
<div class="" style="left:282.5px;top:595.03px;width:43.50px;height:10.93px;line-height:10.93px;text-align:center;transform:scaleX(0.812);transform-origin:center center;">122,96</div>
<div class="" style="left:326px;top:595.03px;width:43.50px;height:10.93px;line-height:10.93px;text-align:center;transform:scaleX(0.812);transform-origin:center center;">150,24</div>
<div class="" style="left:369.5px;top:595.03px;width:44.00px;height:10.93px;line-height:10.93px;text-align:right;padding-right:1.5px;box-sizing:border-box;transform:scaleX(0.812);transform-origin:right center;">22%</div>
<div class="" style="left:413.5px;top:595.03px;width:47.50px;height:10.93px;line-height:10.93px;text-align:right;padding-right:1.5px;box-sizing:border-box;transform:scaleX(0.812);transform-origin:right center;">908.598</div>
<div class="" style="left:462px;top:595.03px;width:48.00px;height:10.93px;line-height:10.93px;text-align:right;padding-right:1.5px;box-sizing:border-box;transform:scaleX(0.812);transform-origin:right center;">1.110.178</div>
<div class="" style="left:510px;top:595.03px;width:50.00px;height:10.93px;line-height:10.93px;text-align:right;padding-right:1.5px;box-sizing:border-box;transform:scaleX(0.812);transform-origin:right center;">201.580</div>
<div class="" style="left:560px;top:595.03px;width:42.40px;height:10.93px;line-height:10.93px;text-align:right;padding-right:1.5px;box-sizing:border-box;transform:scaleX(0.812);transform-origin:right center;">22%</div>
<div class="" style="left:105px;top:605.96px;width:53.50px;height:10.93px;line-height:10.93px;text-align:left;padding-left:1.6px;box-sizing:border-box;transform:scaleX(0.858);transform-origin:left center;">Euro 1</div>
<div class="" style="left:158.5px;top:605.96px;width:40.00px;height:10.93px;line-height:10.93px;text-align:right;padding-right:1.5px;box-sizing:border-box;transform:scaleX(0.812);transform-origin:right center;">4.805</div>
<div class="" style="left:198.5px;top:605.96px;width:40.00px;height:10.93px;line-height:10.93px;text-align:right;padding-right:1.5px;box-sizing:border-box;transform:scaleX(0.812);transform-origin:right center;">4.805</div>
<div class="" style="left:237.8px;top:605.96px;width:44.00px;height:10.93px;line-height:10.93px;text-align:center;transform:scaleX(0.812);transform-origin:center center;">0%</div>
<div class="" style="left:282.5px;top:605.96px;width:43.50px;height:10.93px;line-height:10.93px;text-align:center;transform:scaleX(0.812);transform-origin:center center;">124,72</div>
<div class="" style="left:326px;top:605.96px;width:43.50px;height:10.93px;line-height:10.93px;text-align:center;transform:scaleX(0.812);transform-origin:center center;">168,26</div>
<div class="" style="left:369.5px;top:605.96px;width:44.00px;height:10.93px;line-height:10.93px;text-align:right;padding-right:1.5px;box-sizing:border-box;transform:scaleX(0.812);transform-origin:right center;">35%</div>
<div class="" style="left:413.5px;top:605.96px;width:47.50px;height:10.93px;line-height:10.93px;text-align:right;padding-right:1.5px;box-sizing:border-box;transform:scaleX(0.812);transform-origin:right center;">599.299</div>
<div class="" style="left:462px;top:605.96px;width:48.00px;height:10.93px;line-height:10.93px;text-align:right;padding-right:1.5px;box-sizing:border-box;transform:scaleX(0.812);transform-origin:right center;">808.547</div>
<div class="" style="left:510px;top:605.96px;width:50.00px;height:10.93px;line-height:10.93px;text-align:right;padding-right:1.5px;box-sizing:border-box;transform:scaleX(0.812);transform-origin:right center;">209.248</div>
<div class="" style="left:560px;top:605.96px;width:42.40px;height:10.93px;line-height:10.93px;text-align:right;padding-right:1.5px;box-sizing:border-box;transform:scaleX(0.812);transform-origin:right center;">35%</div>
<div class="" style="left:105px;top:616.88px;width:53.50px;height:10.93px;line-height:10.93px;text-align:left;padding-left:1.6px;box-sizing:border-box;transform:scaleX(0.858);transform-origin:left center;">Euro 2</div>
<div class="" style="left:158.5px;top:616.88px;width:40.00px;height:10.93px;line-height:10.93px;text-align:right;padding-right:1.5px;box-sizing:border-box;transform:scaleX(0.812);transform-origin:right center;">3.544</div>
<div class="" style="left:198.5px;top:616.88px;width:40.00px;height:10.93px;line-height:10.93px;text-align:right;padding-right:1.5px;box-sizing:border-box;transform:scaleX(0.812);transform-origin:right center;">3.544</div>
<div class="" style="left:237.8px;top:616.88px;width:44.00px;height:10.93px;line-height:10.93px;text-align:center;transform:scaleX(0.812);transform-origin:center center;">0%</div>
<div class="" style="left:282.5px;top:616.88px;width:43.50px;height:10.93px;line-height:10.93px;text-align:center;transform:scaleX(0.812);transform-origin:center center;">137,85</div>
<div class="" style="left:326px;top:616.88px;width:43.50px;height:10.93px;line-height:10.93px;text-align:center;transform:scaleX(0.812);transform-origin:center center;">194,58</div>
<div class="" style="left:369.5px;top:616.88px;width:44.00px;height:10.93px;line-height:10.93px;text-align:right;padding-right:1.5px;box-sizing:border-box;transform:scaleX(0.812);transform-origin:right center;">41%</div>
<div class="" style="left:413.5px;top:616.88px;width:47.50px;height:10.93px;line-height:10.93px;text-align:right;padding-right:1.5px;box-sizing:border-box;transform:scaleX(0.812);transform-origin:right center;">488.552</div>
<div class="" style="left:462px;top:616.88px;width:48.00px;height:10.93px;line-height:10.93px;text-align:right;padding-right:1.5px;box-sizing:border-box;transform:scaleX(0.812);transform-origin:right center;">689.603</div>
<div class="" style="left:510px;top:616.88px;width:50.00px;height:10.93px;line-height:10.93px;text-align:right;padding-right:1.5px;box-sizing:border-box;transform:scaleX(0.812);transform-origin:right center;">201.051</div>
<div class="" style="left:560px;top:616.88px;width:42.40px;height:10.93px;line-height:10.93px;text-align:right;padding-right:1.5px;box-sizing:border-box;transform:scaleX(0.812);transform-origin:right center;">41%</div>
<div class="" style="left:105px;top:627.81px;width:53.50px;height:10.93px;line-height:10.93px;text-align:left;padding-left:1.6px;box-sizing:border-box;transform:scaleX(0.858);transform-origin:left center;">Euro 3</div>
<div class="" style="left:158.5px;top:627.81px;width:40.00px;height:10.93px;line-height:10.93px;text-align:right;padding-right:1.5px;box-sizing:border-box;transform:scaleX(0.812);transform-origin:right center;">3.550</div>
<div class="" style="left:198.5px;top:627.81px;width:40.00px;height:10.93px;line-height:10.93px;text-align:right;padding-right:1.5px;box-sizing:border-box;transform:scaleX(0.812);transform-origin:right center;">3.550</div>
<div class="" style="left:237.8px;top:627.81px;width:44.00px;height:10.93px;line-height:10.93px;text-align:center;transform:scaleX(0.812);transform-origin:center center;">0%</div>
<div class="" style="left:282.5px;top:627.81px;width:43.50px;height:10.93px;line-height:10.93px;text-align:center;transform:scaleX(0.812);transform-origin:center center;">39,59</div>
<div class="" style="left:326px;top:627.81px;width:43.50px;height:10.93px;line-height:10.93px;text-align:center;transform:scaleX(0.812);transform-origin:center center;">194,58</div>
<div class="" style="left:369.5px;top:627.81px;width:44.00px;height:10.93px;line-height:10.93px;text-align:right;padding-right:1.5px;box-sizing:border-box;transform:scaleX(0.812);transform-origin:right center;">392%</div>
<div class="" style="left:413.5px;top:627.81px;width:47.50px;height:10.93px;line-height:10.93px;text-align:right;padding-right:1.5px;box-sizing:border-box;transform:scaleX(0.812);transform-origin:right center;">140.553</div>
<div class="" style="left:462px;top:627.81px;width:48.00px;height:10.93px;line-height:10.93px;text-align:right;padding-right:1.5px;box-sizing:border-box;transform:scaleX(0.812);transform-origin:right center;">690.834</div>
<div class="" style="left:510px;top:627.81px;width:50.00px;height:10.93px;line-height:10.93px;text-align:right;padding-right:1.5px;box-sizing:border-box;transform:scaleX(0.812);transform-origin:right center;">550.280</div>
<div class="" style="left:560px;top:627.81px;width:42.40px;height:10.93px;line-height:10.93px;text-align:right;padding-right:1.5px;box-sizing:border-box;transform:scaleX(0.812);transform-origin:right center;">392%</div>
<div class="" style="left:105px;top:638.74px;width:53.50px;height:10.93px;line-height:10.93px;text-align:left;padding-left:1.6px;box-sizing:border-box;transform:scaleX(0.858);transform-origin:left center;">Euro 4</div>
<div class="" style="left:158.5px;top:638.74px;width:40.00px;height:10.93px;line-height:10.93px;text-align:right;padding-right:1.5px;box-sizing:border-box;transform:scaleX(0.812);transform-origin:right center;">0</div>
<div class="" style="left:198.5px;top:638.74px;width:40.00px;height:10.93px;line-height:10.93px;text-align:right;padding-right:1.5px;box-sizing:border-box;transform:scaleX(0.812);transform-origin:right center;">0</div>
<div class="" style="left:237.8px;top:638.74px;width:44.00px;height:10.93px;line-height:10.93px;text-align:center;transform:scaleX(0.812);transform-origin:center center;">0%</div>
<div class="" style="left:369.5px;top:638.74px;width:44.00px;height:10.93px;line-height:10.93px;text-align:right;padding-right:1.5px;box-sizing:border-box;transform:scaleX(0.812);transform-origin:right center;">0%</div>
<div class="" style="left:413.5px;top:638.74px;width:47.50px;height:10.93px;line-height:10.93px;text-align:left;padding-left:1.6px;box-sizing:border-box;transform:scaleX(0.812);transform-origin:left center;">0</div>
<div class="" style="left:462px;top:638.74px;width:48.00px;height:10.93px;line-height:10.93px;text-align:right;padding-right:1.5px;box-sizing:border-box;transform:scaleX(0.812);transform-origin:right center;">0</div>
<div class="" style="left:510px;top:638.74px;width:50.00px;height:10.93px;line-height:10.93px;text-align:right;padding-right:1.5px;box-sizing:border-box;transform:scaleX(0.812);transform-origin:right center;">0</div>
<div class="" style="left:560px;top:638.74px;width:42.40px;height:10.93px;line-height:10.93px;text-align:right;padding-right:1.5px;box-sizing:border-box;transform:scaleX(0.812);transform-origin:right center;">0%</div>
<div class="" style="left:105px;top:649.67px;width:53.50px;height:10.93px;line-height:10.93px;text-align:left;padding-left:1.6px;box-sizing:border-box;transform:scaleX(0.858);transform-origin:left center;">Euro 5</div>
<div class="" style="left:158.5px;top:649.67px;width:40.00px;height:10.93px;line-height:10.93px;text-align:right;padding-right:1.5px;box-sizing:border-box;transform:scaleX(0.812);transform-origin:right center;">0</div>
<div class="" style="left:198.5px;top:649.67px;width:40.00px;height:10.93px;line-height:10.93px;text-align:right;padding-right:1.5px;box-sizing:border-box;transform:scaleX(0.812);transform-origin:right center;">0</div>
<div class="" style="left:237.8px;top:649.67px;width:44.00px;height:10.93px;line-height:10.93px;text-align:center;transform:scaleX(0.812);transform-origin:center center;">0%</div>
<div class="" style="left:369.5px;top:649.67px;width:44.00px;height:10.93px;line-height:10.93px;text-align:right;padding-right:1.5px;box-sizing:border-box;transform:scaleX(0.812);transform-origin:right center;">0%</div>
<div class="" style="left:413.5px;top:649.67px;width:47.50px;height:10.93px;line-height:10.93px;text-align:left;padding-left:1.6px;box-sizing:border-box;transform:scaleX(0.812);transform-origin:left center;">0</div>
<div class="" style="left:462px;top:649.67px;width:48.00px;height:10.93px;line-height:10.93px;text-align:right;padding-right:1.5px;box-sizing:border-box;transform:scaleX(0.812);transform-origin:right center;">0</div>
<div class="" style="left:510px;top:649.67px;width:50.00px;height:10.93px;line-height:10.93px;text-align:right;padding-right:1.5px;box-sizing:border-box;transform:scaleX(0.812);transform-origin:right center;">0</div>
<div class="" style="left:560px;top:649.67px;width:42.40px;height:10.93px;line-height:10.93px;text-align:right;padding-right:1.5px;box-sizing:border-box;transform:scaleX(0.812);transform-origin:right center;">0%</div>
<div class="" style="left:62px;top:595.03px;width:43.00px;height:76.49px;line-height:76.49px;text-align:center;transform:scaleX(0.858);transform-origin:center center;">Gasoline</div>
<div class="b" style="left:105px;top:660.59px;width:53.50px;height:10.93px;line-height:10.93px;text-align:left;padding-left:1.6px;box-sizing:border-box;transform:scaleX(0.858);transform-origin:left center;">M2Ws Total</div>
<div class="b" style="left:158.5px;top:660.59px;width:40.00px;height:10.93px;line-height:10.93px;text-align:right;padding-right:1.5px;box-sizing:border-box;transform:scaleX(0.826);transform-origin:right center;">19.289</div>
<div class="b" style="left:198.5px;top:660.59px;width:40.00px;height:10.93px;line-height:10.93px;text-align:right;padding-right:1.5px;box-sizing:border-box;transform:scaleX(0.826);transform-origin:right center;">19.289</div>
<div class="b" style="left:237.8px;top:660.59px;width:44.00px;height:10.93px;line-height:10.93px;text-align:center;transform:scaleX(0.826);transform-origin:center center;">0%</div>
<div class="b" style="left:282.5px;top:660.59px;width:43.50px;height:10.93px;line-height:10.93px;text-align:center;transform:scaleX(0.826);transform-origin:center center;">110,79</div>
<div class="b" style="left:326px;top:660.59px;width:43.50px;height:10.93px;line-height:10.93px;text-align:center;transform:scaleX(0.826);transform-origin:center center;">171,04</div>
<div class="b" style="left:369.5px;top:660.59px;width:44.00px;height:10.93px;line-height:10.93px;text-align:right;padding-right:1.5px;box-sizing:border-box;transform:scaleX(0.826);transform-origin:right center;">54%</div>
<div class="b" style="left:413.5px;top:660.59px;width:47.50px;height:10.93px;line-height:10.93px;text-align:right;padding-right:1.5px;box-sizing:border-box;transform:scaleX(0.826);transform-origin:right center;">2.137.002</div>
<div class="b" style="left:462px;top:660.59px;width:48.00px;height:10.93px;line-height:10.93px;text-align:right;padding-right:1.5px;box-sizing:border-box;transform:scaleX(0.826);transform-origin:right center;">3.299.162</div>
<div class="b" style="left:510px;top:660.59px;width:50.00px;height:10.93px;line-height:10.93px;text-align:right;padding-right:1.5px;box-sizing:border-box;transform:scaleX(0.826);transform-origin:right center;">1.162.160</div>
<div class="b" style="left:560px;top:660.59px;width:42.40px;height:10.93px;line-height:10.93px;text-align:right;padding-right:1.5px;box-sizing:border-box;transform:scaleX(0.826);transform-origin:right center;">54%</div>
<div class="b nfr" style="left:9px;top:595.03px;width:53px;height:76.49px"><span>1.A.3.b iv -<br>Motorised<br>Two-<br>Wheelers<br>(M2Ws)</span></div>
<div class="b" style="left:105px;top:671.52px;width:53.50px;height:18.18px;line-height:18.18px;text-align:left;padding-left:1.6px;box-sizing:border-box;transform:scaleX(0.858);transform-origin:left center;">Total</div>
<div class="b" style="left:158.5px;top:671.52px;width:40.00px;height:18.18px;line-height:18.18px;text-align:right;padding-right:1.5px;box-sizing:border-box;transform:scaleX(0.826);transform-origin:right center;">2.100.883</div>
<div class="b" style="left:198.5px;top:671.52px;width:40.00px;height:18.18px;line-height:18.18px;text-align:right;padding-right:1.5px;box-sizing:border-box;transform:scaleX(0.826);transform-origin:right center;">2.100.883</div>
<div class="b" style="left:237.8px;top:671.52px;width:44.00px;height:18.18px;line-height:18.18px;text-align:center;transform:scaleX(0.826);transform-origin:center center;">0%</div>
<div class="b" style="left:282.5px;top:671.52px;width:43.50px;height:18.18px;line-height:18.18px;text-align:center;transform:scaleX(0.826);transform-origin:center center;">301,00</div>
<div class="b" style="left:326px;top:671.52px;width:43.50px;height:18.18px;line-height:18.18px;text-align:center;transform:scaleX(0.826);transform-origin:center center;">157,85</div>
<div class="b" style="left:369.5px;top:671.52px;width:44.00px;height:18.18px;line-height:18.18px;text-align:right;padding-right:1.5px;box-sizing:border-box;transform:scaleX(0.826);transform-origin:right center;">-48%</div>
<div class="b" style="left:413.5px;top:671.52px;width:47.50px;height:18.18px;line-height:18.18px;text-align:right;padding-right:1.5px;box-sizing:border-box;transform:scaleX(0.826);transform-origin:right center;">632.365.736</div>
<div class="b" style="left:462px;top:671.52px;width:48.00px;height:18.18px;line-height:18.18px;text-align:right;padding-right:1.5px;box-sizing:border-box;transform:scaleX(0.826);transform-origin:right center;">331.625.655</div>
<div class="b" style="left:510px;top:671.52px;width:50.00px;height:18.18px;line-height:18.18px;text-align:right;padding-right:1.5px;box-sizing:border-box;transform:scaleX(0.826);transform-origin:right center;">-300.740.081</div>
<div class="b" style="left:560px;top:671.52px;width:42.40px;height:18.18px;line-height:18.18px;text-align:right;padding-right:1.5px;box-sizing:border-box;transform:scaleX(0.826);transform-origin:right center;">-48%</div>
<div class="b" style="left:9px;top:671.52px;width:96.00px;height:18.18px;line-height:18.18px;text-align:center;transform:scaleX(0.858);transform-origin:center center;">1.A.3.b - Road Transport</div>
<div style="left:105px;top:124.67px;width:498px;height:1px;background:rgba(0,0,0,0.55)"></div>
<div style="left:105px;top:135.60px;width:498px;height:1px;background:rgba(0,0,0,0.55)"></div>
<div style="left:105px;top:212.09px;width:498px;height:1px;background:rgba(0,0,0,0.55)"></div>
<div style="left:105px;top:223.01px;width:498px;height:1px;background:rgba(0,0,0,0.55)"></div>
<div style="left:9px;top:233.94px;width:594px;height:1px;background:rgba(0,0,0,0.55)"></div>
<div style="left:105px;top:310.43px;width:498px;height:1px;background:rgba(0,0,0,0.55)"></div>
<div style="left:105px;top:321.36px;width:498px;height:1px;background:rgba(0,0,0,0.55)"></div>
<div style="left:105px;top:397.84px;width:498px;height:1px;background:rgba(0,0,0,0.55)"></div>
<div style="left:105px;top:408.77px;width:498px;height:1px;background:rgba(0,0,0,0.55)"></div>
<div style="left:9px;top:419.70px;width:594px;height:1px;background:rgba(0,0,0,0.55)"></div>
<div style="left:105px;top:496.19px;width:498px;height:1px;background:rgba(0,0,0,0.55)"></div>
<div style="left:9px;top:507.11px;width:594px;height:1px;background:rgba(0,0,0,0.55)"></div>
<div style="left:105px;top:583.60px;width:498px;height:1px;background:rgba(0,0,0,0.55)"></div>
<div style="left:9px;top:594.53px;width:594px;height:1px;background:rgba(0,0,0,0.55)"></div>
<div style="left:105px;top:660.09px;width:498px;height:1px;background:rgba(0,0,0,0.55)"></div>
<div style="left:9px;top:671.02px;width:594px;height:1px;background:rgba(0,0,0,0.55)"></div>
<div style="left:9px;top:689.20px;width:594px;height:1px;background:rgba(0,0,0,0.55)"></div>
<div style="left:158px;top:15.90px;width:1px;height:673.80px;background:rgba(0,0,0,0.55)"></div>
<div style="left:282px;top:15.90px;width:1px;height:673.80px;background:rgba(0,0,0,0.55)"></div>
<div style="left:413px;top:15.90px;width:1px;height:673.80px;background:rgba(0,0,0,0.55)"></div>
<div class="b" style="left:160.50px;top:16.50px;width:120px;height:10.93px;line-height:10.93px;text-align:center;transform:scaleX(0.858)">Activity Data</div>
<div class="b" style="left:283.00px;top:16.50px;width:130px;height:10.93px;line-height:10.93px;text-align:center;transform:scaleX(0.858)">Implied Emission Factor</div>
<div class="b" style="left:448.30px;top:16.50px;width:120px;height:10.93px;line-height:10.93px;text-align:center;transform:scaleX(0.858)">NO<sub>x</sub> Emissions</div>
<div class="b" style="left:138.50px;top:27.43px;width:80px;height:10.93px;line-height:10.93px;text-align:center;transform:scaleX(0.858)">current</div>
<div class="b" style="left:178.50px;top:27.43px;width:80px;height:10.93px;line-height:10.93px;text-align:center;transform:scaleX(0.858)">adjusted</div>
<div class="b" style="left:220.30px;top:27.43px;width:80px;height:10.93px;line-height:10.93px;text-align:center;transform:scaleX(0.858)">difference</div>
<div class="b" style="left:264.30px;top:27.43px;width:80px;height:10.93px;line-height:10.93px;text-align:center;transform:scaleX(0.858)">current</div>
<div class="b" style="left:307.80px;top:27.43px;width:80px;height:10.93px;line-height:10.93px;text-align:center;transform:scaleX(0.858)">adjusted</div>
<div class="b" style="left:351.50px;top:27.43px;width:80px;height:10.93px;line-height:10.93px;text-align:center;transform:scaleX(0.858)">difference</div>
<div class="b" style="left:397.80px;top:27.43px;width:80px;height:10.93px;line-height:10.93px;text-align:center;transform:scaleX(0.858)">current</div>
<div class="b" style="left:446.20px;top:27.43px;width:80px;height:10.93px;line-height:10.93px;text-align:center;transform:scaleX(0.858)">adjusted</div>
<div class="b" style="left:495.00px;top:27.43px;width:80px;height:10.93px;line-height:10.93px;text-align:center;transform:scaleX(0.858)">adjustment</div>
<div class="b" style="left:541.50px;top:27.43px;width:80px;height:10.93px;line-height:10.93px;text-align:center;transform:scaleX(0.858)">difference</div>
<div class="b" style="left:159.80px;top:38.35px;width:80px;height:10.93px;line-height:10.93px;text-align:center;transform:scaleX(0.858)">in [TJ]</div>
<div class="b" style="left:220.30px;top:38.35px;width:80px;height:10.93px;line-height:10.93px;text-align:center;transform:scaleX(0.858)">in [%]</div>
<div class="b" style="left:286.80px;top:38.35px;width:80px;height:10.93px;line-height:10.93px;text-align:center;transform:scaleX(0.858)">in [kg/TJ]</div>
<div class="b" style="left:351.50px;top:38.35px;width:80px;height:10.93px;line-height:10.93px;text-align:center;transform:scaleX(0.858)">in [%]</div>
<div class="b" style="left:446.80px;top:38.35px;width:80px;height:10.93px;line-height:10.93px;text-align:center;transform:scaleX(0.858)">in [kg]</div>
<div class="b" style="left:541.50px;top:38.35px;width:80px;height:10.93px;line-height:10.93px;text-align:center;transform:scaleX(0.858)">in [%]</div>
<div class="b" style="left:9px;top:15.90px;width:53px;height:32.78px;line-height:32.78px;text-align:center;transform:scaleX(0.858)">NFR Code</div>
<div class="b" style="left:62px;top:15.90px;width:43px;height:32.78px;line-height:32.78px;text-align:center;transform:scaleX(0.858)">Fuel</div>
</body></html>
